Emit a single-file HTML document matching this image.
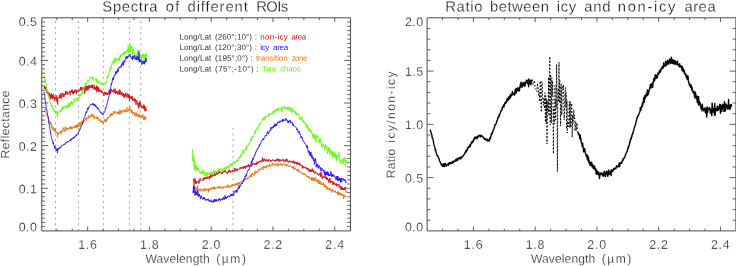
<!DOCTYPE html>
<html><head><meta charset="utf-8"><title>Spectra</title>
<style>html,body{margin:0;padding:0;background:#fff;}svg{display:block;}text{font-family:"Liberation Sans",sans-serif;}</style></head>
<body>
<svg width="736" height="266" viewBox="0 0 736 266" font-family="'Liberation Sans', sans-serif">
<rect width="736" height="266" fill="#ffffff"/>
<path d="M55.45,230.9 V18.8 M78.47,230.9 V18.8 M103.35,230.9 V18.8 M129.42,230.9 V18.8 M140.75,230.9 V18.8 M233.00,230.9 V128.0" stroke="#a0a0a0" stroke-width="0.95" stroke-dasharray="2.0 3.62" stroke-dashoffset="0.05" fill="none"/>
<g fill="none" stroke-width="0.9" stroke-linejoin="round" stroke-linecap="round">
<path d="M44.20,88.87 L44.47,85.90 L44.74,87.13 L45.01,88.23 L45.28,86.95 L45.55,88.82 L45.82,89.45 L46.09,87.34 L46.36,92.25 L46.63,92.19 L46.90,90.86 L47.17,92.12 L47.44,93.68 L47.71,92.95 L47.98,93.40 L48.25,91.91 L48.52,95.37 L48.79,95.01 L49.06,95.51 L49.33,92.94 L49.60,98.06 L49.87,95.93 L50.14,95.28 L50.41,99.21 L50.68,96.15 L50.95,94.13 L51.22,95.90 L51.49,93.12 L51.76,98.43 L52.03,96.28 L52.30,95.89 L52.57,98.81 L52.84,94.70 L53.11,98.20 L53.38,94.26 L53.65,96.54 L53.92,95.79 L54.19,100.01 L54.46,100.56 L54.73,97.39 L55.00,99.27 L55.27,97.75 L55.54,98.98 L55.81,96.99 L56.08,95.58 L56.35,95.47 L56.62,98.88 L56.89,101.76 L57.16,98.66 L57.43,97.36 L57.70,104.50 L57.97,98.33 L58.24,97.97 L58.51,98.04 L58.78,97.26 L59.05,96.81 L59.32,94.89 L59.59,97.72 L59.86,96.62 L60.13,98.44 L60.40,95.84 L60.67,93.27 L60.94,95.90 L61.21,98.52 L61.48,95.12 L61.75,94.17 L62.02,93.54 L62.29,93.60 L62.56,94.62 L62.83,93.10 L63.10,97.12 L63.37,94.22 L63.64,94.69 L63.91,96.61 L64.18,96.58 L64.45,93.78 L64.72,94.49 L64.99,94.97 L65.26,93.40 L65.53,90.80 L65.80,94.44 L66.07,94.67 L66.34,93.79 L66.61,91.58 L66.88,92.57 L67.15,91.82 L67.42,92.13 L67.69,94.48 L67.96,94.73 L68.23,93.29 L68.50,93.01 L68.77,93.13 L69.04,91.99 L69.31,91.83 L69.58,90.86 L69.85,91.79 L70.12,95.36 L70.39,93.17 L70.66,91.27 L70.93,91.04 L71.20,90.40 L71.47,92.30 L71.74,92.30 L72.01,89.43 L72.28,92.40 L72.55,90.73 L72.82,93.80 L73.09,91.81 L73.36,94.20 L73.63,90.80 L73.90,91.04 L74.17,91.92 L74.44,93.07 L74.71,92.28 L74.98,89.46 L75.25,91.64 L75.52,91.36 L75.79,90.63 L76.06,90.26 L76.33,93.94 L76.60,90.57 L76.87,89.81 L77.14,92.06 L77.41,91.21 L77.68,90.82 L77.95,92.07 L78.22,91.54 L78.49,91.26 L78.76,92.12 L79.03,90.98 L79.30,89.50 L79.57,89.82 L79.84,89.49 L80.11,90.54 L80.38,88.47 L80.65,87.21 L80.92,90.12 L81.19,87.82 L81.46,86.79 L81.73,90.32 L82.00,88.56 L82.27,90.35 L82.54,88.68 L82.81,87.68 L83.08,87.41 L83.35,88.46 L83.62,88.75 L83.89,87.82 L84.16,88.58 L84.43,86.55 L84.70,93.50 L84.97,85.97 L85.24,88.36 L85.51,89.65 L85.78,90.16 L86.05,91.03 L86.32,85.85 L86.59,89.34 L86.86,89.93 L87.13,89.48 L87.40,86.41 L87.67,88.39 L87.94,90.54 L88.21,85.22 L88.48,88.18 L88.75,89.07 L89.02,86.16 L89.29,88.04 L89.56,85.37 L89.83,85.67 L90.10,85.56 L90.37,87.03 L90.64,86.51 L90.91,88.07 L91.18,85.11 L91.45,86.36 L91.72,88.08 L91.99,87.51 L92.26,84.67 L92.53,87.86 L92.80,86.22 L93.07,87.70 L93.34,87.70 L93.61,89.26 L93.88,87.69 L94.15,84.77 L94.42,85.66 L94.69,89.05 L94.96,87.66 L95.23,89.96 L95.50,88.76 L95.77,87.30 L96.04,90.29 L96.31,87.49 L96.58,85.69 L96.85,92.22 L97.12,86.19 L97.39,90.29 L97.66,90.90 L97.93,89.83 L98.20,87.14 L98.47,91.49 L98.74,87.83 L99.01,88.15 L99.28,89.85 L99.55,91.80 L99.82,91.21 L100.09,92.18 L100.36,90.40 L100.63,90.99 L100.90,89.66 L101.17,91.11 L101.44,92.69 L101.71,91.47 L101.98,92.85 L102.25,91.39 L102.52,91.53 L102.79,92.68 L103.06,92.49 L103.33,93.88 L103.60,93.39 L103.87,95.95 L104.14,93.01 L104.41,93.08 L104.68,91.87 L104.95,93.55 L105.22,94.59 L105.49,92.36 L105.76,93.39 L106.03,94.53 L106.30,93.17 L106.57,92.51 L106.84,94.78 L107.11,93.37 L107.38,93.79 L107.65,94.94 L107.92,94.85 L108.19,92.48 L108.46,92.15 L108.73,93.33 L109.00,92.59 L109.27,89.74 L109.54,94.55 L109.81,92.46 L110.08,93.42 L110.35,90.28 L110.62,93.91 L110.89,90.80 L111.16,91.35 L111.43,89.15 L111.70,90.88 L111.97,90.63 L112.24,90.58 L112.51,91.46 L112.78,90.83 L113.05,92.23 L113.32,90.01 L113.59,89.24 L113.86,90.84 L114.13,91.96 L114.40,93.02 L114.67,92.47 L114.94,88.57 L115.21,92.01 L115.48,93.80 L115.75,91.74 L116.02,90.95 L116.29,92.34 L116.56,91.19 L116.83,93.07 L117.10,92.17 L117.37,94.47 L117.64,93.19 L117.91,91.40 L118.18,93.57 L118.45,94.20 L118.72,91.97 L118.99,92.30 L119.26,89.49 L119.53,94.59 L119.80,92.38 L120.07,90.10 L120.34,90.75 L120.61,93.25 L120.88,94.87 L121.15,93.65 L121.42,94.61 L121.69,92.25 L121.96,91.96 L122.23,95.49 L122.50,94.96 L122.77,94.23 L123.04,96.35 L123.31,92.96 L123.58,93.86 L123.85,96.19 L124.12,97.52 L124.39,94.76 L124.66,97.44 L124.93,93.97 L125.20,95.50 L125.47,94.80 L125.74,92.68 L126.01,95.63 L126.28,96.75 L126.55,95.15 L126.82,95.35 L127.09,97.70 L127.36,93.68 L127.63,93.37 L127.90,94.76 L128.17,94.01 L128.44,98.07 L128.71,96.59 L128.98,94.91 L129.25,95.46 L129.52,101.03 L129.79,95.83 L130.06,95.81 L130.33,97.69 L130.60,98.43 L130.87,98.01 L131.14,96.48 L131.41,96.32 L131.68,99.27 L131.95,98.48 L132.22,96.25 L132.49,100.84 L132.76,100.45 L133.03,99.10 L133.30,99.30 L133.57,100.29 L133.84,99.09 L134.11,98.30 L134.38,101.13 L134.65,98.63 L134.92,101.70 L135.19,99.09 L135.46,101.41 L135.73,101.59 L136.00,104.81 L136.27,100.63 L136.54,100.32 L136.81,101.75 L137.08,101.24 L137.35,102.31 L137.62,104.12 L137.89,104.90 L138.16,106.51 L138.43,103.03 L138.70,108.51 L138.97,107.72 L139.24,104.57 L139.51,101.56 L139.78,105.21 L140.05,105.66 L140.32,102.18 L140.59,106.06 L140.86,105.83 L141.13,105.10 L141.40,107.46 L141.67,108.21 L141.94,106.05 L142.21,107.32 L142.48,106.11 L142.75,106.07 L143.02,107.57 L143.29,108.42 L143.56,106.89 L143.83,104.49 L144.10,108.99 L144.37,105.76 L144.64,108.59 L144.91,111.32 L145.18,108.69 L145.45,107.02 L145.72,106.72 L145.99,110.91 L146.26,109.15" stroke="#cc1414"/>
<path d="M44.20,109.55 L44.47,110.37 L44.74,109.69 L45.01,109.90 L45.28,109.76 L45.55,107.97 L45.82,110.43 L46.09,112.75 L46.36,113.29 L46.63,114.62 L46.90,114.67 L47.17,115.66 L47.44,117.04 L47.71,115.77 L47.98,117.11 L48.25,116.25 L48.52,119.86 L48.79,119.43 L49.06,120.59 L49.33,122.44 L49.60,122.55 L49.87,121.88 L50.14,123.49 L50.41,121.59 L50.68,124.37 L50.95,124.67 L51.22,123.29 L51.49,127.29 L51.76,125.52 L52.03,127.66 L52.30,126.91 L52.57,129.02 L52.84,129.84 L53.11,127.81 L53.38,127.40 L53.65,129.37 L53.92,130.86 L54.19,129.82 L54.46,129.91 L54.73,131.53 L55.00,128.17 L55.27,130.94 L55.54,130.48 L55.81,132.77 L56.08,131.95 L56.35,131.82 L56.62,132.94 L56.89,131.85 L57.16,133.64 L57.43,137.50 L57.70,133.27 L57.97,132.81 L58.24,134.55 L58.51,133.18 L58.78,133.70 L59.05,133.45 L59.32,131.77 L59.59,133.15 L59.86,132.71 L60.13,132.49 L60.40,131.51 L60.67,131.32 L60.94,132.57 L61.21,134.03 L61.48,130.45 L61.75,131.90 L62.02,130.76 L62.29,131.97 L62.56,131.46 L62.83,132.07 L63.10,127.53 L63.37,129.94 L63.64,129.39 L63.91,130.29 L64.18,129.47 L64.45,129.46 L64.72,130.86 L64.99,132.15 L65.26,126.62 L65.53,129.39 L65.80,130.00 L66.07,129.54 L66.34,129.02 L66.61,127.76 L66.88,128.12 L67.15,129.92 L67.42,130.22 L67.69,128.98 L67.96,127.81 L68.23,128.78 L68.50,128.31 L68.77,129.12 L69.04,128.55 L69.31,127.62 L69.58,128.48 L69.85,126.84 L70.12,129.07 L70.39,129.42 L70.66,126.64 L70.93,128.41 L71.20,126.73 L71.47,129.03 L71.74,128.77 L72.01,127.40 L72.28,128.74 L72.55,127.04 L72.82,126.73 L73.09,126.75 L73.36,127.17 L73.63,126.90 L73.90,127.38 L74.17,126.43 L74.44,127.95 L74.71,128.18 L74.98,126.37 L75.25,125.23 L75.52,127.64 L75.79,128.05 L76.06,126.49 L76.33,125.13 L76.60,126.85 L76.87,128.22 L77.14,124.26 L77.41,126.88 L77.68,125.88 L77.95,125.14 L78.22,126.55 L78.49,124.32 L78.76,125.97 L79.03,126.92 L79.30,125.39 L79.57,123.92 L79.84,122.62 L80.11,122.92 L80.38,122.01 L80.65,125.69 L80.92,123.29 L81.19,122.11 L81.46,121.55 L81.73,121.55 L82.00,122.11 L82.27,120.76 L82.54,123.90 L82.81,120.86 L83.08,120.58 L83.35,121.60 L83.62,122.69 L83.89,122.33 L84.16,120.05 L84.43,120.71 L84.70,120.40 L84.97,120.65 L85.24,120.14 L85.51,118.58 L85.78,118.03 L86.05,119.49 L86.32,117.74 L86.59,120.48 L86.86,118.77 L87.13,117.36 L87.40,117.98 L87.67,117.58 L87.94,117.82 L88.21,118.87 L88.48,115.94 L88.75,115.27 L89.02,117.61 L89.29,116.83 L89.56,117.04 L89.83,117.17 L90.10,116.27 L90.37,117.20 L90.64,115.10 L90.91,116.07 L91.18,114.95 L91.45,114.54 L91.72,116.51 L91.99,116.46 L92.26,113.61 L92.53,114.61 L92.80,116.34 L93.07,117.33 L93.34,115.44 L93.61,116.10 L93.88,114.79 L94.15,119.40 L94.42,117.17 L94.69,117.75 L94.96,117.59 L95.23,118.01 L95.50,117.74 L95.77,116.76 L96.04,118.10 L96.31,117.44 L96.58,118.94 L96.85,116.71 L97.12,117.05 L97.39,118.56 L97.66,119.42 L97.93,118.28 L98.20,117.47 L98.47,118.34 L98.74,118.11 L99.01,121.08 L99.28,120.17 L99.55,120.83 L99.82,119.96 L100.09,119.22 L100.36,121.44 L100.63,122.24 L100.90,121.25 L101.17,120.79 L101.44,122.30 L101.71,120.87 L101.98,122.42 L102.25,120.96 L102.52,120.86 L102.79,122.76 L103.06,122.58 L103.33,124.39 L103.60,121.85 L103.87,122.09 L104.14,120.60 L104.41,119.55 L104.68,119.37 L104.95,121.65 L105.22,119.48 L105.49,121.83 L105.76,121.88 L106.03,119.62 L106.30,121.56 L106.57,119.63 L106.84,120.36 L107.11,118.52 L107.38,119.59 L107.65,117.11 L107.92,118.62 L108.19,117.08 L108.46,117.17 L108.73,117.77 L109.00,116.97 L109.27,116.42 L109.54,117.08 L109.81,116.91 L110.08,114.16 L110.35,116.15 L110.62,116.05 L110.89,114.19 L111.16,115.27 L111.43,113.08 L111.70,116.03 L111.97,113.88 L112.24,113.83 L112.51,115.07 L112.78,113.31 L113.05,113.93 L113.32,111.83 L113.59,112.18 L113.86,111.07 L114.13,112.29 L114.40,113.60 L114.67,112.58 L114.94,113.27 L115.21,111.04 L115.48,111.19 L115.75,111.67 L116.02,112.86 L116.29,112.61 L116.56,112.18 L116.83,112.91 L117.10,112.03 L117.37,112.18 L117.64,113.70 L117.91,111.53 L118.18,112.41 L118.45,114.05 L118.72,112.32 L118.99,113.01 L119.26,111.50 L119.53,114.45 L119.80,109.62 L120.07,110.90 L120.34,110.99 L120.61,114.06 L120.88,112.60 L121.15,111.90 L121.42,110.73 L121.69,112.61 L121.96,112.30 L122.23,111.35 L122.50,110.39 L122.77,110.79 L123.04,112.24 L123.31,112.28 L123.58,111.93 L123.85,111.58 L124.12,109.64 L124.39,111.63 L124.66,110.31 L124.93,111.45 L125.20,111.85 L125.47,110.45 L125.74,109.96 L126.01,112.19 L126.28,111.36 L126.55,110.14 L126.82,107.34 L127.09,110.63 L127.36,111.32 L127.63,111.80 L127.90,109.65 L128.17,109.60 L128.44,109.74 L128.71,111.12 L128.98,108.75 L129.25,109.95 L129.52,109.03 L129.79,106.50 L130.06,108.42 L130.33,110.75 L130.60,109.89 L130.87,110.38 L131.14,111.45 L131.41,112.37 L131.68,109.32 L131.95,112.63 L132.22,112.33 L132.49,111.56 L132.76,113.72 L133.03,112.54 L133.30,114.02 L133.57,112.06 L133.84,111.96 L134.11,114.57 L134.38,115.86 L134.65,114.31 L134.92,114.82 L135.19,113.46 L135.46,112.70 L135.73,114.17 L136.00,116.36 L136.27,112.70 L136.54,114.45 L136.81,112.99 L137.08,115.46 L137.35,116.48 L137.62,114.17 L137.89,115.23 L138.16,117.31 L138.43,115.77 L138.70,114.52 L138.97,114.51 L139.24,113.78 L139.51,117.06 L139.78,115.39 L140.05,117.53 L140.32,117.39 L140.59,115.71 L140.86,115.94 L141.13,117.51 L141.40,116.87 L141.67,117.08 L141.94,114.95 L142.21,117.95 L142.48,115.99 L142.75,114.47 L143.02,116.44 L143.29,117.70 L143.56,119.70 L143.83,116.94 L144.10,115.92 L144.37,119.96 L144.64,117.78 L144.91,117.37 L145.18,116.50 L145.45,116.64 L145.72,119.54 L145.99,117.58" stroke="#e07a1c"/>
<path d="M44.50,76.58 L44.77,77.42 L45.04,81.18 L45.31,79.39 L45.58,82.32 L45.85,83.27 L46.12,84.68 L46.39,84.61 L46.66,88.07 L46.93,90.70 L47.20,89.77 L47.47,89.87 L47.74,90.59 L48.01,93.78 L48.28,94.30 L48.55,95.62 L48.82,96.85 L49.09,95.92 L49.36,100.04 L49.63,100.37 L49.90,100.96 L50.17,102.30 L50.44,104.04 L50.71,103.81 L50.98,103.49 L51.25,106.66 L51.52,105.38 L51.79,105.63 L52.06,105.16 L52.33,107.62 L52.60,106.89 L52.87,108.07 L53.14,109.75 L53.41,109.72 L53.68,111.34 L53.95,110.87 L54.22,110.37 L54.49,110.79 L54.76,110.86 L55.03,112.51 L55.30,111.97 L55.57,111.67 L55.84,113.41 L56.11,112.73 L56.38,112.21 L56.65,111.06 L56.92,113.50 L57.19,113.28 L57.46,117.00 L57.73,112.35 L58.00,111.73 L58.27,112.28 L58.54,112.61 L58.81,111.93 L59.08,111.67 L59.35,111.04 L59.62,111.79 L59.89,111.42 L60.16,109.99 L60.43,111.59 L60.70,111.39 L60.97,111.18 L61.24,109.80 L61.51,109.50 L61.78,108.11 L62.05,110.23 L62.32,106.52 L62.59,108.44 L62.86,108.32 L63.13,109.59 L63.40,108.38 L63.67,107.04 L63.94,106.31 L64.21,106.98 L64.48,107.83 L64.75,107.60 L65.02,107.12 L65.29,106.36 L65.56,106.76 L65.83,108.06 L66.10,105.34 L66.37,106.55 L66.64,108.30 L66.91,106.84 L67.18,105.44 L67.45,106.63 L67.72,104.74 L67.99,105.49 L68.26,107.19 L68.53,107.43 L68.80,102.87 L69.07,105.62 L69.34,106.95 L69.61,103.73 L69.88,104.52 L70.15,105.85 L70.42,103.24 L70.69,104.20 L70.96,103.39 L71.23,100.93 L71.50,103.50 L71.77,102.67 L72.04,103.84 L72.31,105.06 L72.58,103.16 L72.85,101.70 L73.12,102.50 L73.39,102.02 L73.66,102.83 L73.93,99.65 L74.20,99.79 L74.47,98.53 L74.74,101.57 L75.01,100.62 L75.28,99.68 L75.55,99.39 L75.82,99.38 L76.09,98.75 L76.36,99.28 L76.63,98.85 L76.90,100.91 L77.17,99.38 L77.44,97.74 L77.71,97.77 L77.98,99.68 L78.25,98.50 L78.52,98.04 L78.79,98.29 L79.06,99.07 L79.33,95.39 L79.60,95.69 L79.87,94.21 L80.14,96.60 L80.41,95.18 L80.68,94.41 L80.95,93.85 L81.22,95.12 L81.49,93.57 L81.76,92.51 L82.03,94.06 L82.30,90.60 L82.57,89.67 L82.84,93.70 L83.11,89.44 L83.38,88.56 L83.65,87.68 L83.92,87.74 L84.19,88.22 L84.46,87.57 L84.73,86.72 L85.00,85.15 L85.27,83.12 L85.54,84.74 L85.81,85.72 L86.08,84.68 L86.35,82.69 L86.62,83.41 L86.89,81.53 L87.16,81.52 L87.43,79.71 L87.70,80.46 L87.97,80.68 L88.24,80.00 L88.51,80.85 L88.78,81.94 L89.05,81.00 L89.32,78.76 L89.59,77.98 L89.86,77.81 L90.13,77.15 L90.40,78.11 L90.67,78.37 L90.94,77.90 L91.21,77.79 L91.48,77.67 L91.75,77.29 L92.02,76.57 L92.29,79.64 L92.56,78.93 L92.83,76.71 L93.10,76.88 L93.37,77.44 L93.64,78.35 L93.91,80.01 L94.18,79.88 L94.45,80.11 L94.72,80.30 L94.99,80.49 L95.26,80.20 L95.53,80.03 L95.80,79.50 L96.07,77.69 L96.34,79.82 L96.61,82.34 L96.88,79.67 L97.15,79.74 L97.42,81.92 L97.69,80.97 L97.96,80.48 L98.23,83.15 L98.50,82.22 L98.77,82.58 L99.04,81.17 L99.31,82.66 L99.58,82.71 L99.85,83.40 L100.12,84.05 L100.39,84.22 L100.66,83.26 L100.93,84.09 L101.20,82.06 L101.47,84.44 L101.74,84.68 L102.01,83.58 L102.28,83.31 L102.55,84.38 L102.82,83.12 L103.09,85.08 L103.36,85.02 L103.63,83.43 L103.90,84.49 L104.17,85.51 L104.44,85.21 L104.71,84.77 L104.98,82.92 L105.25,82.21 L105.52,81.63 L105.79,82.28 L106.06,83.84 L106.33,82.08 L106.60,81.65 L106.87,80.68 L107.14,76.35 L107.41,77.28 L107.68,76.19 L107.95,77.40 L108.22,77.10 L108.49,73.39 L108.76,73.40 L109.03,73.20 L109.30,71.10 L109.57,70.13 L109.84,69.28 L110.11,70.53 L110.38,67.37 L110.65,69.40 L110.92,67.26 L111.19,67.44 L111.46,67.79 L111.73,64.11 L112.00,63.27 L112.27,64.37 L112.54,61.88 L112.81,61.82 L113.08,62.24 L113.35,62.26 L113.62,60.08 L113.89,61.01 L114.16,62.11 L114.43,62.94 L114.70,58.28 L114.97,62.49 L115.24,61.72 L115.51,58.87 L115.78,58.15 L116.05,60.49 L116.32,59.17 L116.59,59.72 L116.86,60.49 L117.13,58.64 L117.40,59.16 L117.67,59.38 L117.94,59.73 L118.21,60.71 L118.48,60.42 L118.75,58.26 L119.02,57.41 L119.29,60.72 L119.56,58.19 L119.83,57.70 L120.10,55.44 L120.37,57.76 L120.64,55.47 L120.91,55.69 L121.18,54.31 L121.45,55.20 L121.72,55.78 L121.99,53.48 L122.26,54.09 L122.53,54.98 L122.80,53.19 L123.07,53.00 L123.34,53.36 L123.61,52.38 L123.88,54.89 L124.15,52.52 L124.42,54.68 L124.69,54.67 L124.96,51.59 L125.23,53.03 L125.50,52.10 L125.77,50.97 L126.04,51.81 L126.31,51.69 L126.58,52.72 L126.85,52.90 L127.12,49.79 L127.39,50.48 L127.66,51.49 L127.93,52.11 L128.20,45.35 L128.47,52.62 L128.74,49.48 L129.01,52.74 L129.28,48.66 L129.55,47.74 L129.82,49.46 L130.09,51.72 L130.36,49.45 L130.63,44.69 L130.90,50.95 L131.17,46.46 L131.44,47.89 L131.71,47.70 L131.98,46.53 L132.25,47.93 L132.52,57.00 L132.79,49.71 L133.06,51.11 L133.33,50.83 L133.60,48.79 L133.87,51.71 L134.14,54.33 L134.41,54.56 L134.68,53.20 L134.95,54.46 L135.22,55.29 L135.49,56.51 L135.76,57.45 L136.03,60.00 L136.30,53.99 L136.57,57.78 L136.84,58.21 L137.11,58.42 L137.38,50.80 L137.65,55.35 L137.92,49.45 L138.19,57.77 L138.46,56.65 L138.73,56.85 L139.00,56.62 L139.27,63.00 L139.54,56.52 L139.81,59.25 L140.08,58.29 L140.35,57.85 L140.62,57.99 L140.89,57.18 L141.16,54.63 L141.43,61.00 L141.70,58.08 L141.97,56.23 L142.24,57.90 L142.51,58.14 L142.78,53.63 L143.05,55.86 L143.32,55.17 L143.59,54.17 L143.86,56.59 L144.13,63.00 L144.40,54.96 L144.67,56.30 L144.94,56.47 L145.21,56.38 L145.48,60.21 L145.75,54.63 L146.02,56.13 L146.29,53.16 L146.56,56.55" stroke="#66f814"/>
<path d="M44.00,92.24 L44.27,93.82 L44.54,94.41 L44.81,96.49 L45.08,99.46 L45.35,100.83 L45.62,103.47 L45.89,104.09 L46.16,107.12 L46.43,108.38 L46.70,109.55 L46.97,110.33 L47.24,112.30 L47.51,114.11 L47.78,115.82 L48.05,117.29 L48.32,118.94 L48.59,120.94 L48.86,123.45 L49.13,123.16 L49.40,125.32 L49.67,126.97 L49.94,129.16 L50.21,130.10 L50.48,132.98 L50.75,134.10 L51.02,135.19 L51.29,136.15 L51.56,137.79 L51.83,138.83 L52.10,139.89 L52.37,140.21 L52.64,142.01 L52.91,141.66 L53.18,144.18 L53.45,142.36 L53.72,144.61 L53.99,144.91 L54.26,146.73 L54.53,145.88 L54.80,148.36 L55.07,146.72 L55.34,149.25 L55.61,148.65 L55.88,148.76 L56.15,149.36 L56.42,150.70 L56.69,150.12 L56.96,148.35 L57.23,150.50 L57.50,153.00 L57.77,148.69 L58.04,149.98 L58.31,148.55 L58.58,149.10 L58.85,148.84 L59.12,148.01 L59.39,148.50 L59.66,147.21 L59.93,147.67 L60.20,146.96 L60.47,146.93 L60.74,147.97 L61.01,146.65 L61.28,145.70 L61.55,146.09 L61.82,145.50 L62.09,145.80 L62.36,145.69 L62.63,145.45 L62.90,145.26 L63.17,144.69 L63.44,145.10 L63.71,145.28 L63.98,144.07 L64.25,144.23 L64.52,144.11 L64.79,144.64 L65.06,144.35 L65.33,143.06 L65.60,143.36 L65.87,142.21 L66.14,142.34 L66.41,142.75 L66.68,142.93 L66.95,142.94 L67.22,141.98 L67.49,141.16 L67.76,142.03 L68.03,141.49 L68.30,141.66 L68.57,141.31 L68.84,141.45 L69.11,141.22 L69.38,141.14 L69.65,140.15 L69.92,140.84 L70.19,139.73 L70.46,139.89 L70.73,140.77 L71.00,139.66 L71.27,138.54 L71.54,139.95 L71.81,139.46 L72.08,139.35 L72.35,138.58 L72.62,138.47 L72.89,137.92 L73.16,137.44 L73.43,138.60 L73.70,137.24 L73.97,136.98 L74.24,136.80 L74.51,138.01 L74.78,137.21 L75.05,136.26 L75.32,136.26 L75.59,136.40 L75.86,136.41 L76.13,134.65 L76.40,135.91 L76.67,134.93 L76.94,134.32 L77.21,134.14 L77.48,134.48 L77.75,134.65 L78.02,133.23 L78.29,133.02 L78.56,131.74 L78.83,132.07 L79.10,131.80 L79.37,129.89 L79.64,129.95 L79.91,130.18 L80.18,128.04 L80.45,128.26 L80.72,128.20 L80.99,126.12 L81.26,126.20 L81.53,125.75 L81.80,125.54 L82.07,123.50 L82.34,124.23 L82.61,123.01 L82.88,122.81 L83.15,122.04 L83.42,120.77 L83.69,120.09 L83.96,117.96 L84.23,117.41 L84.50,116.82 L84.77,116.42 L85.04,116.39 L85.31,113.94 L85.58,114.03 L85.85,112.62 L86.12,111.70 L86.39,112.82 L86.66,111.30 L86.93,111.60 L87.20,110.73 L87.47,108.91 L87.74,107.84 L88.01,109.77 L88.28,107.85 L88.55,107.00 L88.82,107.71 L89.09,106.97 L89.36,106.08 L89.63,105.87 L89.90,105.78 L90.17,105.33 L90.44,105.34 L90.71,104.34 L90.98,104.07 L91.25,104.44 L91.52,104.13 L91.79,104.53 L92.06,103.70 L92.33,103.84 L92.60,103.32 L92.87,105.11 L93.14,103.52 L93.41,104.67 L93.68,104.18 L93.95,105.10 L94.22,105.53 L94.49,104.26 L94.76,105.30 L95.03,104.54 L95.30,106.63 L95.57,105.71 L95.84,105.23 L96.11,105.99 L96.38,107.47 L96.65,107.84 L96.92,108.00 L97.19,107.06 L97.46,107.77 L97.73,109.20 L98.00,108.11 L98.27,108.70 L98.54,108.67 L98.81,108.89 L99.08,110.68 L99.35,110.68 L99.62,110.91 L99.89,111.34 L100.16,111.95 L100.43,112.60 L100.70,112.02 L100.97,112.17 L101.24,112.10 L101.51,113.73 L101.78,113.10 L102.05,112.86 L102.32,113.95 L102.59,114.34 L102.86,114.92 L103.13,114.97 L103.40,113.74 L103.67,113.39 L103.94,113.23 L104.21,112.13 L104.48,112.09 L104.75,111.60 L105.02,110.50 L105.29,108.64 L105.56,108.05 L105.83,108.70 L106.10,106.44 L106.37,106.65 L106.64,105.72 L106.91,104.24 L107.18,102.91 L107.45,102.68 L107.72,101.03 L107.99,100.43 L108.26,99.58 L108.53,97.72 L108.80,97.06 L109.07,95.82 L109.34,93.76 L109.61,93.50 L109.88,91.78 L110.15,89.30 L110.42,89.30 L110.69,87.89 L110.96,86.14 L111.23,83.38 L111.50,84.75 L111.77,83.44 L112.04,82.32 L112.31,81.04 L112.58,78.70 L112.85,79.28 L113.12,77.68 L113.39,80.09 L113.66,76.99 L113.93,77.57 L114.20,74.93 L114.47,74.75 L114.74,74.81 L115.01,75.44 L115.28,74.76 L115.55,73.97 L115.82,71.42 L116.09,73.72 L116.36,71.29 L116.63,73.22 L116.90,73.00 L117.17,71.59 L117.44,71.33 L117.71,68.81 L117.98,72.07 L118.25,69.48 L118.52,69.86 L118.79,67.75 L119.06,68.14 L119.33,66.72 L119.60,67.26 L119.87,67.14 L120.14,67.01 L120.41,67.73 L120.68,66.51 L120.95,65.93 L121.22,65.37 L121.49,66.88 L121.76,64.07 L122.03,65.39 L122.30,62.05 L122.57,62.72 L122.84,63.58 L123.11,62.68 L123.38,65.31 L123.65,64.55 L123.92,60.32 L124.19,60.39 L124.46,60.90 L124.73,62.33 L125.00,61.40 L125.27,60.27 L125.54,58.27 L125.81,58.45 L126.08,56.36 L126.35,57.10 L126.62,58.60 L126.89,58.60 L127.16,56.28 L127.43,57.27 L127.70,58.37 L127.97,56.65 L128.24,55.74 L128.51,56.64 L128.78,56.21 L129.05,55.36 L129.32,54.35 L129.59,54.40 L129.86,55.07 L130.13,54.25 L130.40,56.91 L130.67,56.51 L130.94,57.02 L131.21,58.57 L131.48,58.23 L131.75,58.24 L132.02,57.04 L132.29,56.46 L132.56,59.98 L132.83,56.09 L133.10,56.27 L133.37,56.02 L133.64,57.58 L133.91,57.94 L134.18,58.86 L134.45,57.25 L134.72,55.30 L134.99,58.17 L135.26,59.14 L135.53,57.96 L135.80,57.84 L136.07,58.89 L136.34,60.19 L136.61,58.29 L136.88,56.59 L137.15,57.89 L137.42,58.57 L137.69,56.52 L137.96,60.14 L138.23,58.22 L138.50,60.10 L138.77,59.83 L139.04,51.50 L139.31,62.07 L139.58,59.29 L139.85,59.32 L140.12,60.82 L140.39,61.77 L140.66,60.85 L140.93,59.77 L141.20,62.28 L141.47,62.42 L141.74,64.69 L142.01,61.87 L142.28,62.72 L142.55,61.88 L142.82,60.78 L143.09,62.98 L143.36,64.06 L143.63,61.52 L143.90,61.90 L144.17,61.08 L144.44,64.27 L144.71,61.36 L144.98,62.76 L145.25,60.56 L145.52,61.58 L145.79,60.42 L146.06,57.90 L146.33,61.01 L146.60,61.49" stroke="#2a10ff"/>
<path d="M192.50,149.46 L192.77,161.10 L193.04,160.27 L193.31,157.83 L193.58,162.33 L193.85,156.02 L194.12,165.50 L194.39,169.33 L194.66,161.30 L194.93,165.82 L195.20,170.71 L195.47,167.19 L195.74,165.85 L196.01,165.29 L196.28,168.36 L196.55,167.95 L196.82,169.92 L197.09,165.70 L197.36,171.25 L197.63,168.64 L197.90,170.85 L198.17,168.70 L198.44,168.06 L198.71,169.61 L198.98,169.31 L199.25,170.52 L199.52,172.33 L199.79,173.19 L200.06,172.17 L200.33,171.36 L200.60,171.69 L200.87,173.25 L201.14,174.08 L201.41,172.34 L201.68,172.69 L201.95,172.01 L202.22,173.25 L202.49,174.20 L202.76,169.73 L203.03,173.47 L203.30,172.72 L203.57,170.99 L203.84,173.74 L204.11,173.40 L204.38,173.94 L204.65,172.25 L204.92,175.87 L205.19,173.89 L205.46,173.50 L205.73,175.46 L206.00,174.65 L206.27,174.89 L206.54,175.27 L206.81,172.02 L207.08,175.82 L207.35,173.77 L207.62,174.39 L207.89,174.99 L208.16,173.28 L208.43,174.25 L208.70,174.62 L208.97,173.72 L209.24,174.18 L209.51,171.97 L209.78,172.31 L210.05,172.27 L210.32,173.72 L210.59,177.06 L210.86,173.45 L211.13,172.95 L211.40,172.95 L211.67,173.93 L211.94,173.58 L212.21,171.61 L212.48,173.72 L212.75,172.58 L213.02,173.35 L213.29,170.42 L213.56,170.79 L213.83,172.88 L214.10,170.37 L214.37,172.51 L214.64,172.37 L214.91,172.09 L215.18,172.22 L215.45,172.04 L215.72,172.14 L215.99,171.19 L216.26,171.49 L216.53,174.39 L216.80,172.48 L217.07,171.86 L217.34,171.54 L217.61,170.32 L217.88,171.19 L218.15,170.62 L218.42,171.74 L218.69,169.77 L218.96,168.21 L219.23,169.94 L219.50,171.12 L219.77,172.82 L220.04,171.28 L220.31,169.16 L220.58,169.83 L220.85,169.00 L221.12,169.68 L221.39,168.87 L221.66,168.03 L221.93,170.05 L222.20,169.71 L222.47,169.25 L222.74,169.68 L223.01,171.30 L223.28,169.27 L223.55,168.67 L223.82,169.84 L224.09,167.21 L224.36,169.54 L224.63,167.89 L224.90,167.75 L225.17,168.58 L225.44,170.04 L225.71,167.48 L225.98,169.07 L226.25,168.36 L226.52,166.44 L226.79,168.64 L227.06,166.74 L227.33,165.96 L227.60,166.51 L227.87,166.45 L228.14,167.65 L228.41,166.17 L228.68,168.29 L228.95,166.87 L229.22,165.79 L229.49,165.54 L229.76,166.48 L230.03,164.06 L230.30,163.78 L230.57,164.95 L230.84,166.35 L231.11,165.76 L231.38,165.47 L231.65,165.10 L231.92,162.98 L232.19,164.72 L232.46,163.10 L232.73,165.57 L233.00,164.53 L233.27,164.24 L233.54,164.51 L233.81,164.18 L234.08,163.82 L234.35,163.65 L234.62,162.40 L234.89,161.34 L235.16,162.73 L235.43,163.54 L235.70,162.79 L235.97,161.24 L236.24,161.77 L236.51,160.40 L236.78,160.93 L237.05,159.62 L237.32,160.07 L237.59,161.64 L237.86,160.09 L238.13,160.52 L238.40,157.91 L238.67,157.69 L238.94,158.03 L239.21,158.32 L239.48,157.22 L239.75,158.12 L240.02,156.20 L240.29,157.79 L240.56,157.05 L240.83,154.58 L241.10,155.94 L241.37,154.76 L241.64,155.65 L241.91,153.71 L242.18,154.21 L242.45,154.08 L242.72,150.37 L242.99,150.89 L243.26,152.56 L243.53,151.94 L243.80,152.73 L244.07,151.57 L244.34,149.69 L244.61,150.95 L244.88,149.49 L245.15,149.65 L245.42,149.00 L245.69,149.49 L245.96,147.31 L246.23,147.22 L246.50,145.70 L246.77,149.70 L247.04,146.10 L247.31,145.80 L247.58,145.06 L247.85,145.12 L248.12,144.88 L248.39,145.49 L248.66,144.60 L248.93,144.30 L249.20,142.92 L249.47,142.99 L249.74,143.84 L250.01,142.14 L250.28,142.02 L250.55,139.19 L250.82,141.30 L251.09,140.57 L251.36,141.14 L251.63,136.56 L251.90,138.88 L252.17,138.23 L252.44,137.94 L252.71,136.71 L252.98,137.05 L253.25,137.04 L253.52,135.87 L253.79,135.02 L254.06,134.59 L254.33,133.91 L254.60,133.84 L254.87,132.56 L255.14,130.77 L255.41,133.65 L255.68,129.99 L255.95,131.15 L256.22,129.45 L256.49,129.98 L256.76,128.79 L257.03,129.23 L257.30,127.93 L257.57,126.97 L257.84,128.10 L258.11,128.65 L258.38,127.15 L258.65,126.42 L258.92,124.75 L259.19,125.23 L259.46,125.28 L259.73,123.67 L260.00,124.75 L260.27,123.30 L260.54,123.20 L260.81,121.85 L261.08,121.39 L261.35,121.67 L261.62,121.43 L261.89,121.01 L262.16,119.27 L262.43,119.24 L262.70,119.66 L262.97,117.54 L263.24,120.23 L263.51,119.26 L263.78,118.74 L264.05,117.74 L264.32,119.06 L264.59,117.71 L264.86,119.67 L265.13,117.92 L265.40,115.79 L265.67,117.82 L265.94,116.34 L266.21,116.15 L266.48,116.24 L266.75,116.17 L267.02,116.39 L267.29,116.74 L267.56,116.26 L267.83,114.91 L268.10,114.11 L268.37,114.50 L268.64,115.51 L268.91,115.86 L269.18,116.64 L269.45,113.29 L269.72,114.58 L269.99,114.10 L270.26,113.76 L270.53,114.15 L270.80,113.59 L271.07,113.41 L271.34,112.86 L271.61,113.76 L271.88,114.26 L272.15,114.69 L272.42,112.34 L272.69,111.64 L272.96,112.28 L273.23,111.54 L273.50,113.27 L273.77,111.24 L274.04,111.98 L274.31,110.38 L274.58,111.23 L274.85,111.61 L275.12,112.81 L275.39,110.40 L275.66,111.31 L275.93,108.67 L276.20,109.39 L276.47,109.63 L276.74,109.78 L277.01,110.56 L277.28,110.61 L277.55,108.18 L277.82,110.18 L278.09,108.36 L278.36,111.20 L278.63,109.52 L278.90,109.24 L279.17,108.79 L279.44,108.83 L279.71,108.77 L279.98,107.98 L280.25,109.36 L280.52,108.81 L280.79,109.23 L281.06,108.33 L281.33,109.01 L281.60,107.49 L281.87,111.79 L282.14,107.40 L282.41,107.59 L282.68,108.95 L282.95,109.15 L283.22,107.03 L283.49,106.08 L283.76,106.27 L284.03,106.61 L284.30,106.75 L284.57,107.32 L284.84,108.49 L285.11,108.52 L285.38,106.81 L285.65,107.99 L285.92,108.37 L286.19,108.96 L286.46,107.45 L286.73,106.95 L287.00,108.57 L287.27,109.45 L287.54,107.49 L287.81,110.09 L288.08,109.97 L288.35,108.06 L288.62,106.84 L288.89,107.93 L289.16,108.28 L289.43,109.28 L289.70,107.16 L289.97,111.41 L290.24,111.42 L290.51,108.43 L290.78,107.38 L291.05,109.20 L291.32,109.93 L291.59,113.00 L291.86,110.52 L292.13,109.77 L292.40,108.18 L292.67,110.89 L292.94,111.45 L293.21,110.52 L293.48,111.36 L293.75,111.54 L294.02,111.33 L294.29,110.66 L294.56,112.42 L294.83,110.89 L295.10,113.99 L295.37,111.91 L295.64,113.56 L295.91,112.57 L296.18,113.94 L296.45,113.59 L296.72,114.59 L296.99,113.50 L297.26,112.91 L297.53,114.53 L297.80,114.72 L298.07,113.83 L298.34,114.93 L298.61,114.21 L298.88,116.31 L299.15,116.11 L299.42,116.80 L299.69,119.72 L299.96,117.54 L300.23,118.05 L300.50,118.61 L300.77,118.13 L301.04,117.96 L301.31,119.75 L301.58,120.20 L301.85,116.50 L302.12,119.59 L302.39,119.70 L302.66,119.77 L302.93,121.90 L303.20,120.40 L303.47,122.13 L303.74,121.02 L304.01,121.49 L304.28,122.98 L304.55,121.85 L304.82,122.79 L305.09,122.20 L305.36,122.80 L305.63,124.81 L305.90,125.05 L306.17,123.68 L306.44,124.02 L306.71,128.18 L306.98,125.33 L307.25,125.48 L307.52,127.26 L307.79,126.34 L308.06,126.68 L308.33,129.61 L308.60,130.20 L308.87,128.16 L309.14,131.66 L309.41,129.04 L309.68,129.25 L309.95,130.12 L310.22,129.93 L310.49,132.04 L310.76,131.97 L311.03,130.27 L311.30,132.65 L311.57,131.64 L311.84,132.00 L312.11,133.30 L312.38,136.03 L312.65,134.90 L312.92,137.25 L313.19,138.16 L313.46,135.22 L313.73,134.34 L314.00,134.22 L314.27,136.62 L314.54,138.05 L314.81,139.75 L315.08,134.14 L315.35,138.90 L315.62,139.44 L315.89,142.45 L316.16,138.14 L316.43,137.94 L316.70,135.18 L316.97,136.92 L317.24,136.51 L317.51,136.94 L317.78,137.41 L318.05,136.38 L318.32,139.55 L318.59,140.79 L318.86,141.82 L319.13,140.36 L319.40,142.97 L319.67,143.28 L319.94,138.34 L320.21,141.16 L320.48,139.48 L320.75,140.32 L321.02,142.97 L321.29,142.64 L321.56,146.16 L321.83,147.64 L322.10,144.64 L322.37,143.70 L322.64,144.09 L322.91,144.66 L323.18,146.14 L323.45,143.79 L323.72,146.76 L323.99,145.38 L324.26,148.33 L324.53,149.25 L324.80,150.33 L325.07,146.81 L325.34,144.72 L325.61,144.37 L325.88,147.52 L326.15,145.58 L326.42,145.44 L326.69,148.38 L326.96,147.40 L327.23,151.07 L327.50,153.88 L327.77,149.75 L328.04,151.09 L328.31,147.50 L328.58,151.27 L328.85,149.70 L329.12,149.11 L329.39,147.78 L329.66,155.00 L329.93,148.71 L330.20,149.75 L330.47,152.43 L330.74,153.21 L331.01,153.43 L331.28,153.27 L331.55,151.46 L331.82,155.04 L332.09,154.09 L332.36,150.97 L332.63,157.37 L332.90,153.63 L333.17,156.45 L333.44,151.77 L333.71,152.50 L333.98,153.93 L334.25,153.87 L334.52,157.49 L334.79,152.32 L335.06,156.10 L335.33,153.88 L335.60,157.14 L335.87,156.68 L336.14,155.31 L336.41,161.09 L336.68,156.66 L336.95,159.14 L337.22,154.40 L337.49,157.00 L337.76,157.59 L338.03,157.86 L338.30,157.05 L338.57,156.23 L338.84,151.80 L339.11,157.08 L339.38,156.53 L339.65,158.02 L339.92,160.43 L340.19,163.33 L340.46,160.06 L340.73,161.19 L341.00,160.55 L341.27,160.89 L341.54,160.76 L341.81,159.17 L342.08,159.19 L342.35,160.66 L342.62,163.78 L342.89,161.86 L343.16,163.68 L343.43,157.94 L343.70,161.24 L343.97,161.66 L344.24,162.05 L344.51,158.35 L344.78,157.54 L345.05,157.12 L345.32,160.75 L345.59,166.44 L345.86,162.24 L346.13,159.44 L346.40,162.66" stroke="#66f814"/>
<path d="M193.30,180.14 L193.57,181.61 L193.84,179.96 L194.11,177.95 L194.38,180.06 L194.65,183.03 L194.92,182.14 L195.19,184.02 L195.46,179.53 L195.73,183.51 L196.00,181.71 L196.27,181.90 L196.54,183.51 L196.81,181.28 L197.08,181.77 L197.35,182.21 L197.62,182.10 L197.89,182.20 L198.16,182.68 L198.43,181.61 L198.70,180.36 L198.97,183.62 L199.24,180.67 L199.51,181.03 L199.78,179.73 L200.05,178.15 L200.32,179.55 L200.59,180.32 L200.86,180.69 L201.13,180.10 L201.40,180.74 L201.67,180.82 L201.94,180.70 L202.21,179.68 L202.48,179.65 L202.75,179.28 L203.02,178.67 L203.29,180.43 L203.56,178.17 L203.83,179.02 L204.10,179.16 L204.37,177.14 L204.64,179.38 L204.91,178.39 L205.18,178.76 L205.45,178.21 L205.72,177.14 L205.99,178.44 L206.26,178.27 L206.53,178.89 L206.80,178.36 L207.07,176.51 L207.34,178.66 L207.61,178.31 L207.88,178.18 L208.15,177.84 L208.42,176.77 L208.69,177.67 L208.96,176.83 L209.23,179.35 L209.50,176.72 L209.77,175.90 L210.04,176.42 L210.31,177.75 L210.58,176.01 L210.85,174.39 L211.12,177.45 L211.39,176.41 L211.66,175.64 L211.93,176.51 L212.20,175.08 L212.47,174.76 L212.74,176.38 L213.01,175.08 L213.28,175.82 L213.55,175.29 L213.82,175.85 L214.09,175.15 L214.36,173.29 L214.63,175.39 L214.90,174.34 L215.17,175.32 L215.44,174.57 L215.71,175.50 L215.98,173.96 L216.25,172.41 L216.52,173.68 L216.79,174.21 L217.06,173.38 L217.33,173.13 L217.60,174.56 L217.87,173.12 L218.14,173.98 L218.41,173.15 L218.68,171.77 L218.95,172.10 L219.22,172.55 L219.49,173.00 L219.76,172.06 L220.03,171.54 L220.30,171.84 L220.57,172.21 L220.84,171.89 L221.11,172.10 L221.38,174.06 L221.65,172.75 L221.92,171.83 L222.19,172.46 L222.46,173.72 L222.73,172.93 L223.00,172.30 L223.27,171.26 L223.54,170.95 L223.81,172.02 L224.08,172.18 L224.35,170.93 L224.62,171.13 L224.89,172.15 L225.16,170.36 L225.43,170.74 L225.70,172.06 L225.97,172.53 L226.24,172.31 L226.51,172.83 L226.78,173.27 L227.05,172.69 L227.32,171.72 L227.59,173.63 L227.86,173.24 L228.13,172.59 L228.40,171.13 L228.67,172.06 L228.94,169.99 L229.21,171.35 L229.48,169.54 L229.75,171.15 L230.02,172.25 L230.29,171.37 L230.56,172.59 L230.83,171.22 L231.10,171.23 L231.37,170.84 L231.64,171.44 L231.91,170.92 L232.18,171.85 L232.45,172.11 L232.72,171.04 L232.99,169.76 L233.26,171.06 L233.53,171.63 L233.80,170.99 L234.07,170.64 L234.34,171.09 L234.61,171.33 L234.88,168.08 L235.15,171.36 L235.42,170.68 L235.69,170.38 L235.96,169.47 L236.23,170.03 L236.50,170.27 L236.77,168.51 L237.04,170.25 L237.31,169.63 L237.58,170.69 L237.85,169.97 L238.12,169.20 L238.39,169.31 L238.66,169.70 L238.93,169.22 L239.20,169.45 L239.47,168.34 L239.74,167.82 L240.01,168.28 L240.28,167.49 L240.55,167.93 L240.82,168.75 L241.09,167.05 L241.36,167.29 L241.63,168.79 L241.90,167.67 L242.17,168.00 L242.44,166.92 L242.71,166.98 L242.98,167.49 L243.25,168.97 L243.52,167.92 L243.79,166.11 L244.06,167.74 L244.33,168.03 L244.60,167.75 L244.87,166.11 L245.14,166.96 L245.41,168.64 L245.68,166.07 L245.95,167.01 L246.22,166.04 L246.49,165.53 L246.76,166.12 L247.03,167.21 L247.30,167.22 L247.57,165.48 L247.84,165.72 L248.11,165.30 L248.38,164.25 L248.65,166.33 L248.92,167.02 L249.19,166.88 L249.46,165.20 L249.73,166.57 L250.00,166.29 L250.27,165.05 L250.54,165.23 L250.81,164.85 L251.08,165.26 L251.35,166.45 L251.62,164.14 L251.89,163.84 L252.16,165.43 L252.43,164.68 L252.70,163.02 L252.97,163.64 L253.24,163.71 L253.51,163.80 L253.78,164.46 L254.05,164.92 L254.32,163.90 L254.59,164.06 L254.86,163.25 L255.13,164.60 L255.40,164.77 L255.67,163.37 L255.94,162.88 L256.21,165.06 L256.48,164.02 L256.75,162.44 L257.02,161.67 L257.29,162.68 L257.56,163.77 L257.83,162.24 L258.10,162.36 L258.37,162.03 L258.64,162.84 L258.91,163.32 L259.18,161.05 L259.45,161.71 L259.72,161.66 L259.99,161.19 L260.26,160.61 L260.53,162.12 L260.80,161.46 L261.07,161.79 L261.34,162.31 L261.61,160.67 L261.88,161.29 L262.15,160.43 L262.42,157.50 L262.69,160.87 L262.96,160.41 L263.23,159.28 L263.50,161.69 L263.77,160.57 L264.04,159.52 L264.31,158.65 L264.58,160.42 L264.85,160.96 L265.12,161.25 L265.39,161.33 L265.66,160.11 L265.93,160.94 L266.20,159.16 L266.47,160.53 L266.74,161.14 L267.01,159.90 L267.28,160.26 L267.55,160.47 L267.82,160.49 L268.09,161.59 L268.36,159.50 L268.63,161.45 L268.90,159.35 L269.17,159.82 L269.44,159.72 L269.71,160.28 L269.98,159.94 L270.25,160.73 L270.52,160.34 L270.79,162.12 L271.06,160.64 L271.33,160.12 L271.60,160.62 L271.87,160.80 L272.14,160.15 L272.41,159.40 L272.68,159.64 L272.95,160.44 L273.22,160.96 L273.49,160.68 L273.76,160.21 L274.03,160.74 L274.30,159.88 L274.57,160.49 L274.84,161.43 L275.11,161.19 L275.38,161.38 L275.65,159.98 L275.92,160.45 L276.19,159.47 L276.46,161.03 L276.73,159.95 L277.00,159.22 L277.27,159.89 L277.54,160.50 L277.81,158.51 L278.08,159.15 L278.35,161.10 L278.62,160.38 L278.89,160.27 L279.16,159.00 L279.43,161.59 L279.70,161.14 L279.97,160.88 L280.24,159.42 L280.51,160.79 L280.78,161.25 L281.05,160.06 L281.32,160.12 L281.59,159.94 L281.86,160.81 L282.13,160.14 L282.40,160.07 L282.67,159.16 L282.94,158.99 L283.21,161.10 L283.48,161.62 L283.75,161.04 L284.02,161.49 L284.29,159.91 L284.56,160.31 L284.83,160.65 L285.10,160.22 L285.37,161.71 L285.64,159.28 L285.91,159.89 L286.18,160.08 L286.45,159.81 L286.72,161.09 L286.99,158.82 L287.26,161.40 L287.53,161.26 L287.80,160.84 L288.07,161.79 L288.34,162.63 L288.61,160.96 L288.88,161.48 L289.15,161.29 L289.42,161.48 L289.69,160.73 L289.96,160.63 L290.23,161.79 L290.50,160.96 L290.77,162.21 L291.04,162.19 L291.31,161.26 L291.58,162.00 L291.85,161.85 L292.12,161.75 L292.39,162.86 L292.66,162.06 L292.93,162.29 L293.20,160.61 L293.47,162.75 L293.74,161.18 L294.01,162.11 L294.28,163.81 L294.55,164.03 L294.82,162.35 L295.09,161.73 L295.36,163.15 L295.63,162.58 L295.90,163.26 L296.17,161.99 L296.44,164.08 L296.71,164.53 L296.98,162.22 L297.25,162.88 L297.52,163.06 L297.79,164.35 L298.06,162.30 L298.33,164.20 L298.60,163.99 L298.87,163.68 L299.14,165.03 L299.41,163.03 L299.68,163.64 L299.95,164.26 L300.22,165.61 L300.49,164.89 L300.76,164.64 L301.03,165.85 L301.30,165.21 L301.57,165.22 L301.84,165.64 L302.11,166.30 L302.38,168.35 L302.65,165.43 L302.92,166.68 L303.19,166.47 L303.46,166.53 L303.73,168.11 L304.00,167.65 L304.27,167.71 L304.54,166.95 L304.81,166.77 L305.08,167.84 L305.35,167.51 L305.62,167.42 L305.89,168.57 L306.16,167.18 L306.43,167.71 L306.70,169.06 L306.97,168.49 L307.24,169.22 L307.51,168.11 L307.78,169.49 L308.05,168.23 L308.32,170.86 L308.59,170.29 L308.86,170.01 L309.13,171.43 L309.40,170.11 L309.67,169.04 L309.94,171.81 L310.21,170.46 L310.48,171.64 L310.75,170.46 L311.02,171.81 L311.29,169.47 L311.56,169.10 L311.83,169.05 L312.10,171.80 L312.37,168.61 L312.64,168.95 L312.91,169.51 L313.18,171.63 L313.45,172.00 L313.72,170.59 L313.99,172.66 L314.26,172.21 L314.53,173.42 L314.80,173.22 L315.07,171.37 L315.34,172.59 L315.61,172.28 L315.88,173.19 L316.15,173.02 L316.42,172.95 L316.69,173.93 L316.96,173.29 L317.23,174.26 L317.50,173.56 L317.77,173.48 L318.04,174.94 L318.31,175.12 L318.58,175.62 L318.85,175.03 L319.12,174.16 L319.39,174.79 L319.66,174.90 L319.93,172.73 L320.20,173.65 L320.47,177.01 L320.74,175.24 L321.01,172.00 L321.28,175.46 L321.55,175.95 L321.82,174.41 L322.09,178.81 L322.36,177.56 L322.63,177.33 L322.90,176.27 L323.17,177.23 L323.44,177.81 L323.71,177.52 L323.98,176.28 L324.25,177.47 L324.52,177.56 L324.79,177.92 L325.06,176.47 L325.33,178.21 L325.60,178.07 L325.87,178.53 L326.14,178.67 L326.41,176.86 L326.68,179.82 L326.95,179.87 L327.22,177.52 L327.49,179.21 L327.76,178.47 L328.03,179.13 L328.30,181.08 L328.57,180.68 L328.84,182.62 L329.11,180.51 L329.38,179.22 L329.65,180.90 L329.92,177.98 L330.19,183.27 L330.46,181.61 L330.73,182.01 L331.00,181.84 L331.27,180.80 L331.54,181.86 L331.81,181.24 L332.08,181.75 L332.35,182.94 L332.62,181.26 L332.89,184.88 L333.16,181.78 L333.43,184.26 L333.70,182.65 L333.97,182.09 L334.24,184.23 L334.51,184.13 L334.78,183.81 L335.05,184.17 L335.32,183.64 L335.59,185.05 L335.86,184.10 L336.13,184.85 L336.40,186.31 L336.67,183.50 L336.94,184.56 L337.21,184.57 L337.48,184.56 L337.75,184.04 L338.02,185.48 L338.29,186.13 L338.56,185.95 L338.83,184.30 L339.10,187.20 L339.37,187.37 L339.64,186.75 L339.91,185.60 L340.18,185.91 L340.45,189.44 L340.72,189.31 L340.99,187.95 L341.26,186.42 L341.53,189.18 L341.80,188.02 L342.07,189.97 L342.34,187.40 L342.61,188.80 L342.88,188.12 L343.15,189.43 L343.42,187.90 L343.69,189.92 L343.96,188.49 L344.23,188.02 L344.50,189.93 L344.77,189.67 L345.04,186.98 L345.31,189.61 L345.58,189.89 L345.85,190.09 L346.12,192.42" stroke="#cc1414"/>
<path d="M193.30,183.63 L193.57,185.47 L193.84,181.72 L194.11,182.71 L194.38,185.01 L194.65,186.26 L194.92,186.45 L195.19,188.26 L195.46,188.67 L195.73,189.37 L196.00,187.77 L196.27,189.07 L196.54,187.58 L196.81,189.36 L197.08,189.73 L197.35,188.63 L197.62,185.43 L197.89,188.79 L198.16,192.71 L198.43,189.65 L198.70,189.10 L198.97,189.97 L199.24,191.08 L199.51,190.29 L199.78,189.78 L200.05,188.74 L200.32,189.78 L200.59,188.96 L200.86,190.50 L201.13,191.63 L201.40,191.23 L201.67,189.73 L201.94,189.40 L202.21,189.05 L202.48,190.71 L202.75,190.81 L203.02,190.93 L203.29,190.54 L203.56,189.26 L203.83,188.65 L204.10,191.07 L204.37,189.46 L204.64,191.64 L204.91,188.36 L205.18,189.14 L205.45,189.25 L205.72,190.18 L205.99,190.47 L206.26,189.45 L206.53,190.35 L206.80,188.78 L207.07,189.39 L207.34,188.79 L207.61,189.28 L207.88,189.18 L208.15,189.90 L208.42,192.39 L208.69,188.46 L208.96,189.35 L209.23,190.01 L209.50,189.45 L209.77,190.48 L210.04,188.44 L210.31,189.82 L210.58,188.49 L210.85,189.72 L211.12,189.12 L211.39,189.12 L211.66,188.37 L211.93,187.28 L212.20,187.81 L212.47,189.21 L212.74,188.35 L213.01,189.09 L213.28,187.36 L213.55,188.88 L213.82,189.10 L214.09,186.43 L214.36,188.41 L214.63,189.66 L214.90,187.42 L215.17,188.79 L215.44,187.96 L215.71,188.58 L215.98,187.54 L216.25,187.19 L216.52,187.45 L216.79,187.48 L217.06,187.28 L217.33,187.02 L217.60,188.60 L217.87,187.22 L218.14,186.69 L218.41,186.88 L218.68,188.02 L218.95,185.79 L219.22,187.98 L219.49,188.13 L219.76,188.57 L220.03,187.15 L220.30,186.83 L220.57,187.61 L220.84,187.56 L221.11,188.49 L221.38,187.45 L221.65,187.04 L221.92,186.28 L222.19,187.17 L222.46,187.38 L222.73,188.25 L223.00,187.36 L223.27,188.34 L223.54,188.23 L223.81,186.59 L224.08,186.26 L224.35,186.65 L224.62,186.94 L224.89,186.45 L225.16,187.63 L225.43,187.57 L225.70,187.96 L225.97,187.17 L226.24,186.54 L226.51,187.17 L226.78,186.05 L227.05,186.85 L227.32,186.06 L227.59,187.56 L227.86,184.42 L228.13,187.21 L228.40,187.18 L228.67,186.38 L228.94,186.63 L229.21,186.47 L229.48,187.30 L229.75,187.54 L230.02,186.16 L230.29,187.42 L230.56,185.52 L230.83,186.32 L231.10,186.29 L231.37,184.86 L231.64,186.09 L231.91,185.23 L232.18,186.36 L232.45,184.94 L232.72,184.16 L232.99,184.47 L233.26,185.46 L233.53,185.61 L233.80,185.55 L234.07,184.55 L234.34,185.71 L234.61,184.51 L234.88,184.66 L235.15,185.53 L235.42,184.49 L235.69,182.99 L235.96,184.97 L236.23,184.28 L236.50,183.86 L236.77,185.10 L237.04,183.44 L237.31,184.36 L237.58,183.83 L237.85,185.71 L238.12,182.04 L238.39,183.54 L238.66,183.55 L238.93,184.05 L239.20,182.69 L239.47,182.40 L239.74,183.91 L240.01,182.30 L240.28,182.73 L240.55,182.32 L240.82,182.52 L241.09,180.96 L241.36,181.46 L241.63,181.70 L241.90,181.68 L242.17,182.32 L242.44,181.69 L242.71,181.59 L242.98,180.92 L243.25,181.83 L243.52,180.16 L243.79,180.42 L244.06,179.14 L244.33,179.34 L244.60,180.72 L244.87,179.84 L245.14,178.22 L245.41,179.53 L245.68,179.21 L245.95,178.32 L246.22,179.34 L246.49,178.68 L246.76,178.74 L247.03,179.31 L247.30,177.87 L247.57,179.06 L247.84,177.78 L248.11,177.60 L248.38,178.67 L248.65,177.74 L248.92,176.92 L249.19,176.97 L249.46,177.05 L249.73,175.51 L250.00,177.04 L250.27,176.31 L250.54,175.08 L250.81,175.18 L251.08,176.45 L251.35,174.54 L251.62,177.12 L251.89,174.33 L252.16,175.17 L252.43,172.75 L252.70,174.58 L252.97,174.03 L253.24,174.66 L253.51,174.24 L253.78,173.63 L254.05,175.46 L254.32,174.17 L254.59,172.77 L254.86,173.47 L255.13,170.67 L255.40,172.35 L255.67,173.65 L255.94,172.01 L256.21,172.40 L256.48,171.17 L256.75,172.56 L257.02,171.84 L257.29,171.57 L257.56,172.14 L257.83,172.53 L258.10,171.67 L258.37,169.45 L258.64,170.99 L258.91,170.69 L259.18,169.37 L259.45,168.80 L259.72,169.59 L259.99,169.48 L260.26,169.48 L260.53,168.74 L260.80,169.26 L261.07,169.18 L261.34,168.51 L261.61,168.86 L261.88,167.89 L262.15,166.92 L262.42,168.03 L262.69,168.60 L262.96,169.94 L263.23,165.92 L263.50,167.12 L263.77,166.73 L264.04,167.58 L264.31,166.57 L264.58,167.31 L264.85,167.93 L265.12,166.44 L265.39,166.91 L265.66,168.21 L265.93,167.54 L266.20,165.43 L266.47,168.34 L266.74,166.03 L267.01,166.75 L267.28,166.10 L267.55,165.98 L267.82,165.71 L268.09,166.70 L268.36,165.49 L268.63,165.02 L268.90,165.50 L269.17,165.89 L269.44,164.18 L269.71,166.37 L269.98,165.07 L270.25,166.16 L270.52,166.62 L270.79,165.67 L271.06,165.77 L271.33,164.90 L271.60,164.64 L271.87,163.57 L272.14,164.87 L272.41,164.51 L272.68,162.96 L272.95,165.02 L273.22,165.95 L273.49,164.99 L273.76,165.55 L274.03,164.34 L274.30,163.70 L274.57,164.55 L274.84,164.20 L275.11,163.55 L275.38,165.30 L275.65,164.60 L275.92,163.93 L276.19,164.62 L276.46,164.35 L276.73,164.97 L277.00,165.76 L277.27,163.97 L277.54,163.50 L277.81,165.58 L278.08,166.41 L278.35,163.98 L278.62,163.73 L278.89,163.50 L279.16,164.46 L279.43,164.56 L279.70,164.26 L279.97,165.15 L280.24,163.81 L280.51,163.99 L280.78,163.46 L281.05,165.59 L281.32,165.34 L281.59,165.53 L281.86,163.79 L282.13,165.56 L282.40,164.71 L282.67,165.06 L282.94,164.95 L283.21,164.23 L283.48,164.37 L283.75,163.29 L284.02,164.13 L284.29,164.43 L284.56,163.72 L284.83,164.79 L285.10,165.81 L285.37,164.44 L285.64,164.13 L285.91,164.29 L286.18,165.20 L286.45,166.52 L286.72,165.31 L286.99,165.29 L287.26,164.31 L287.53,165.65 L287.80,165.95 L288.07,165.19 L288.34,165.56 L288.61,165.11 L288.88,166.31 L289.15,166.86 L289.42,166.15 L289.69,166.32 L289.96,166.02 L290.23,165.53 L290.50,165.49 L290.77,165.85 L291.04,166.35 L291.31,166.34 L291.58,167.26 L291.85,167.15 L292.12,167.89 L292.39,167.46 L292.66,166.79 L292.93,167.24 L293.20,166.04 L293.47,168.89 L293.74,167.26 L294.01,167.60 L294.28,169.59 L294.55,167.45 L294.82,168.01 L295.09,168.65 L295.36,168.43 L295.63,169.16 L295.90,169.48 L296.17,169.99 L296.44,169.58 L296.71,170.42 L296.98,169.79 L297.25,170.74 L297.52,171.38 L297.79,169.22 L298.06,170.61 L298.33,171.11 L298.60,169.61 L298.87,168.84 L299.14,171.72 L299.41,171.11 L299.68,172.42 L299.95,171.94 L300.22,172.10 L300.49,171.99 L300.76,172.51 L301.03,171.86 L301.30,172.33 L301.57,173.54 L301.84,172.87 L302.11,173.64 L302.38,173.38 L302.65,173.28 L302.92,172.93 L303.19,174.55 L303.46,173.36 L303.73,174.49 L304.00,173.10 L304.27,174.73 L304.54,174.98 L304.81,174.32 L305.08,173.69 L305.35,175.02 L305.62,175.39 L305.89,175.04 L306.16,175.07 L306.43,176.50 L306.70,175.82 L306.97,175.72 L307.24,176.87 L307.51,176.31 L307.78,175.90 L308.05,177.64 L308.32,176.28 L308.59,177.96 L308.86,176.16 L309.13,177.50 L309.40,178.73 L309.67,177.92 L309.94,178.10 L310.21,178.17 L310.48,178.79 L310.75,177.99 L311.02,178.56 L311.29,177.88 L311.56,180.61 L311.83,177.36 L312.10,179.54 L312.37,177.49 L312.64,179.45 L312.91,180.51 L313.18,177.75 L313.45,181.31 L313.72,178.17 L313.99,178.47 L314.26,179.98 L314.53,178.40 L314.80,181.04 L315.07,180.60 L315.34,176.89 L315.61,178.60 L315.88,179.59 L316.15,181.12 L316.42,179.49 L316.69,180.08 L316.96,181.85 L317.23,180.07 L317.50,181.78 L317.77,179.95 L318.04,182.95 L318.31,183.62 L318.58,180.70 L318.85,179.40 L319.12,180.38 L319.39,183.71 L319.66,182.04 L319.93,184.14 L320.20,181.44 L320.47,182.08 L320.74,183.22 L321.01,184.81 L321.28,183.43 L321.55,182.62 L321.82,184.37 L322.09,184.28 L322.36,184.94 L322.63,184.29 L322.90,183.92 L323.17,184.85 L323.44,182.02 L323.71,185.47 L323.98,186.79 L324.25,186.14 L324.52,184.50 L324.79,183.97 L325.06,187.55 L325.33,185.53 L325.60,186.05 L325.87,186.74 L326.14,185.93 L326.41,186.85 L326.68,188.77 L326.95,186.55 L327.22,189.61 L327.49,187.94 L327.76,188.03 L328.03,188.95 L328.30,189.09 L328.57,189.42 L328.84,188.99 L329.11,187.79 L329.38,190.61 L329.65,188.65 L329.92,187.99 L330.19,190.24 L330.46,190.11 L330.73,189.46 L331.00,189.76 L331.27,190.54 L331.54,192.31 L331.81,190.08 L332.08,188.83 L332.35,189.83 L332.62,191.29 L332.89,190.60 L333.16,190.22 L333.43,192.06 L333.70,192.23 L333.97,191.26 L334.24,192.00 L334.51,191.05 L334.78,191.22 L335.05,191.68 L335.32,190.58 L335.59,192.74 L335.86,192.36 L336.13,191.96 L336.40,192.81 L336.67,192.95 L336.94,192.01 L337.21,192.30 L337.48,192.17 L337.75,194.86 L338.02,191.33 L338.29,193.36 L338.56,194.57 L338.83,192.38 L339.10,192.64 L339.37,192.73 L339.64,191.84 L339.91,195.52 L340.18,193.92 L340.45,192.98 L340.72,193.65 L340.99,194.72 L341.26,194.22 L341.53,193.65 L341.80,195.44 L342.07,193.88 L342.34,194.58 L342.61,195.37 L342.88,194.41 L343.15,195.48 L343.42,194.73 L343.69,198.81 L343.96,195.23 L344.23,196.66 L344.50,194.92 L344.77,194.72 L345.04,196.02 L345.31,195.85 L345.58,195.95 L345.85,196.39 L346.12,197.55" stroke="#e07a1c"/>
<path d="M192.90,192.12 L193.17,192.74 L193.44,185.71 L193.71,192.75 L193.98,192.85 L194.25,186.43 L194.52,187.86 L194.79,189.76 L195.06,195.60 L195.33,190.87 L195.60,191.16 L195.87,195.06 L196.14,192.19 L196.41,192.64 L196.68,194.35 L196.95,193.88 L197.22,189.92 L197.49,192.20 L197.76,195.48 L198.03,192.65 L198.30,196.68 L198.57,195.17 L198.84,195.87 L199.11,196.18 L199.38,193.94 L199.65,195.55 L199.92,195.44 L200.19,197.13 L200.46,198.74 L200.73,197.04 L201.00,197.53 L201.27,195.62 L201.54,197.37 L201.81,197.61 L202.08,197.77 L202.35,198.61 L202.62,199.45 L202.89,198.22 L203.16,198.67 L203.43,197.19 L203.70,199.02 L203.97,198.66 L204.24,197.32 L204.51,199.08 L204.78,198.38 L205.05,199.81 L205.32,199.46 L205.59,199.25 L205.86,200.65 L206.13,199.23 L206.40,199.20 L206.67,199.56 L206.94,199.70 L207.21,199.00 L207.48,200.21 L207.75,200.15 L208.02,199.45 L208.29,198.67 L208.56,200.94 L208.83,201.08 L209.10,200.80 L209.37,200.92 L209.64,201.62 L209.91,200.50 L210.18,201.60 L210.45,200.22 L210.72,199.70 L210.99,200.46 L211.26,200.25 L211.53,200.94 L211.80,202.05 L212.07,200.98 L212.34,201.54 L212.61,202.45 L212.88,202.22 L213.15,200.88 L213.42,200.27 L213.69,202.52 L213.96,199.94 L214.23,199.31 L214.50,199.13 L214.77,201.62 L215.04,199.43 L215.31,200.35 L215.58,200.38 L215.85,201.47 L216.12,199.25 L216.39,200.33 L216.66,200.47 L216.93,201.30 L217.20,199.90 L217.47,200.25 L217.74,199.74 L218.01,200.78 L218.28,200.60 L218.55,199.46 L218.82,200.15 L219.09,198.45 L219.36,199.64 L219.63,198.80 L219.90,199.11 L220.17,200.20 L220.44,201.05 L220.71,199.42 L220.98,199.07 L221.25,198.84 L221.52,199.65 L221.79,198.83 L222.06,199.70 L222.33,200.08 L222.60,199.27 L222.87,198.38 L223.14,199.24 L223.41,198.00 L223.68,197.06 L223.95,199.34 L224.22,199.89 L224.49,199.34 L224.76,197.91 L225.03,195.40 L225.30,197.47 L225.57,198.49 L225.84,197.59 L226.11,198.96 L226.38,197.08 L226.65,198.05 L226.92,197.73 L227.19,197.64 L227.46,196.18 L227.73,197.11 L228.00,197.28 L228.27,196.61 L228.54,195.74 L228.81,196.27 L229.08,195.76 L229.35,196.68 L229.62,197.05 L229.89,196.39 L230.16,196.30 L230.43,195.72 L230.70,195.88 L230.97,194.02 L231.24,195.52 L231.51,196.05 L231.78,194.77 L232.05,195.62 L232.32,193.70 L232.59,194.80 L232.86,194.42 L233.13,194.75 L233.40,194.27 L233.67,195.72 L233.94,191.07 L234.21,192.19 L234.48,192.52 L234.75,192.83 L235.02,191.91 L235.29,191.58 L235.56,190.53 L235.83,190.39 L236.10,190.47 L236.37,192.10 L236.64,189.89 L236.91,192.48 L237.18,190.79 L237.45,189.36 L237.72,189.92 L237.99,189.73 L238.26,187.56 L238.53,186.83 L238.80,188.96 L239.07,186.58 L239.34,187.65 L239.61,187.07 L239.88,184.73 L240.15,186.19 L240.42,185.70 L240.69,185.86 L240.96,184.36 L241.23,184.33 L241.50,183.85 L241.77,182.92 L242.04,184.02 L242.31,183.05 L242.58,183.08 L242.85,181.67 L243.12,181.87 L243.39,179.68 L243.66,179.47 L243.93,180.31 L244.20,178.81 L244.47,178.16 L244.74,178.10 L245.01,176.16 L245.28,177.07 L245.55,176.81 L245.82,175.63 L246.09,174.46 L246.36,176.28 L246.63,174.68 L246.90,172.98 L247.17,172.82 L247.44,171.46 L247.71,170.81 L247.98,170.10 L248.25,170.37 L248.52,170.76 L248.79,170.37 L249.06,168.99 L249.33,169.20 L249.60,168.10 L249.87,165.94 L250.14,165.42 L250.41,165.58 L250.68,165.14 L250.95,164.72 L251.22,161.98 L251.49,160.80 L251.76,163.33 L252.03,160.78 L252.30,161.16 L252.57,159.73 L252.84,157.96 L253.11,159.62 L253.38,158.26 L253.65,158.49 L253.92,157.19 L254.19,155.29 L254.46,155.47 L254.73,155.72 L255.00,153.75 L255.27,153.87 L255.54,154.07 L255.81,151.53 L256.08,151.65 L256.35,151.53 L256.62,151.61 L256.89,150.21 L257.16,149.17 L257.43,149.68 L257.70,148.21 L257.97,148.55 L258.24,148.00 L258.51,147.04 L258.78,147.40 L259.05,147.16 L259.32,144.64 L259.59,145.62 L259.86,144.56 L260.13,143.95 L260.40,143.76 L260.67,144.15 L260.94,142.57 L261.21,141.93 L261.48,140.67 L261.75,141.07 L262.02,140.73 L262.29,139.48 L262.56,139.55 L262.83,139.73 L263.10,140.02 L263.37,138.23 L263.64,139.67 L263.91,138.46 L264.18,137.97 L264.45,137.37 L264.72,136.61 L264.99,135.66 L265.26,135.77 L265.53,135.54 L265.80,135.29 L266.07,136.08 L266.34,136.13 L266.61,134.61 L266.88,134.66 L267.15,132.96 L267.42,131.57 L267.69,132.77 L267.96,132.72 L268.23,133.33 L268.50,133.82 L268.77,131.75 L269.04,132.26 L269.31,131.77 L269.58,130.71 L269.85,130.88 L270.12,130.21 L270.39,130.85 L270.66,128.45 L270.93,127.14 L271.20,128.86 L271.47,129.24 L271.74,129.10 L272.01,127.55 L272.28,128.22 L272.55,127.02 L272.82,127.88 L273.09,126.49 L273.36,125.99 L273.63,127.40 L273.90,125.39 L274.17,124.98 L274.44,126.58 L274.71,125.79 L274.98,123.61 L275.25,126.21 L275.52,124.03 L275.79,124.42 L276.06,124.47 L276.33,125.96 L276.60,124.08 L276.87,124.60 L277.14,123.53 L277.41,123.82 L277.68,122.04 L277.95,122.95 L278.22,122.24 L278.49,121.71 L278.76,122.59 L279.03,123.02 L279.30,122.41 L279.57,121.63 L279.84,122.35 L280.11,120.74 L280.38,121.80 L280.65,121.86 L280.92,121.27 L281.19,121.04 L281.46,121.24 L281.73,120.59 L282.00,120.77 L282.27,121.44 L282.54,119.19 L282.81,121.66 L283.08,120.92 L283.35,120.62 L283.62,119.53 L283.89,119.91 L284.16,119.66 L284.43,120.59 L284.70,120.48 L284.97,120.86 L285.24,119.95 L285.51,118.27 L285.78,119.15 L286.05,119.69 L286.32,120.33 L286.59,118.96 L286.86,120.14 L287.13,120.49 L287.40,120.09 L287.67,120.55 L287.94,122.67 L288.21,120.95 L288.48,122.69 L288.75,121.42 L289.02,120.79 L289.29,121.94 L289.56,121.29 L289.83,121.70 L290.10,120.08 L290.37,122.30 L290.64,121.68 L290.91,123.19 L291.18,122.52 L291.45,122.30 L291.72,121.95 L291.99,123.03 L292.26,122.94 L292.53,122.87 L292.80,125.28 L293.07,123.95 L293.34,125.10 L293.61,125.88 L293.88,125.34 L294.15,125.84 L294.42,126.06 L294.69,126.74 L294.96,126.75 L295.23,127.03 L295.50,127.09 L295.77,126.96 L296.04,127.40 L296.31,127.64 L296.58,128.74 L296.85,130.08 L297.12,128.73 L297.39,129.48 L297.66,129.66 L297.93,130.88 L298.20,132.22 L298.47,131.61 L298.74,132.60 L299.01,130.97 L299.28,133.20 L299.55,134.18 L299.82,133.78 L300.09,133.45 L300.36,135.61 L300.63,135.65 L300.90,137.68 L301.17,136.25 L301.44,137.08 L301.71,137.40 L301.98,138.28 L302.25,137.24 L302.52,140.28 L302.79,140.20 L303.06,140.00 L303.33,140.39 L303.60,141.59 L303.87,141.96 L304.14,141.83 L304.41,142.53 L304.68,143.45 L304.95,143.34 L305.22,143.93 L305.49,144.37 L305.76,144.94 L306.03,144.71 L306.30,145.53 L306.57,147.11 L306.84,147.98 L307.11,147.84 L307.38,145.55 L307.65,147.77 L307.92,149.81 L308.19,152.59 L308.46,152.39 L308.73,150.78 L309.00,151.09 L309.27,151.50 L309.54,155.31 L309.81,153.54 L310.08,152.28 L310.35,155.61 L310.62,155.91 L310.89,152.05 L311.16,154.61 L311.43,157.55 L311.70,157.84 L311.97,155.01 L312.24,157.34 L312.51,159.12 L312.78,158.75 L313.05,157.07 L313.32,158.83 L313.59,160.56 L313.86,160.74 L314.13,158.97 L314.40,164.41 L314.67,161.60 L314.94,159.39 L315.21,161.55 L315.48,158.26 L315.75,161.74 L316.02,163.06 L316.29,167.11 L316.56,164.08 L316.83,164.66 L317.10,165.58 L317.37,165.07 L317.64,164.17 L317.91,167.46 L318.18,166.52 L318.45,168.39 L318.72,167.94 L318.99,165.28 L319.26,166.33 L319.53,166.74 L319.80,167.09 L320.07,168.68 L320.34,168.05 L320.61,167.41 L320.88,171.12 L321.15,171.23 L321.42,169.49 L321.69,168.07 L321.96,168.97 L322.23,168.98 L322.50,168.98 L322.77,169.05 L323.04,171.08 L323.31,171.37 L323.58,171.77 L323.85,169.92 L324.12,171.97 L324.39,174.72 L324.66,172.28 L324.93,171.53 L325.20,176.44 L325.47,172.99 L325.74,171.78 L326.01,174.25 L326.28,172.04 L326.55,172.76 L326.82,175.00 L327.09,172.74 L327.36,171.58 L327.63,175.03 L327.90,175.36 L328.17,172.16 L328.44,173.83 L328.71,176.11 L328.98,174.96 L329.25,175.96 L329.52,174.63 L329.79,173.98 L330.06,174.20 L330.33,174.69 L330.60,175.54 L330.87,171.33 L331.14,172.62 L331.41,175.63 L331.68,176.74 L331.95,174.86 L332.22,175.97 L332.49,174.46 L332.76,174.11 L333.03,176.55 L333.30,176.32 L333.57,175.77 L333.84,174.69 L334.11,176.87 L334.38,176.78 L334.65,176.60 L334.92,176.92 L335.19,176.66 L335.46,178.11 L335.73,178.03 L336.00,180.22 L336.27,179.77 L336.54,177.71 L336.81,176.04 L337.08,178.94 L337.35,177.21 L337.62,180.50 L337.89,176.11 L338.16,177.80 L338.43,180.86 L338.70,178.68 L338.97,179.87 L339.24,179.89 L339.51,178.28 L339.78,180.39 L340.05,177.94 L340.32,178.86 L340.59,182.63 L340.86,179.29 L341.13,180.22 L341.40,178.17 L341.67,181.88 L341.94,178.59 L342.21,178.96 L342.48,179.26 L342.75,178.84 L343.02,178.23 L343.29,180.01 L343.56,179.82 L343.83,180.49 L344.10,179.27 L344.37,179.48 L344.64,180.45 L344.91,181.02 L345.18,179.74 L345.45,181.15 L345.72,180.93 L345.99,182.92 L346.26,182.35" stroke="#2a10ff"/>
</g>
<g fill="none" stroke="#0a0a0a" stroke-linejoin="round">
<path d="M430.00,129.70 L430.27,130.61 L430.54,130.23 L430.81,132.36 L431.08,132.54 L431.35,133.17 L431.62,134.83 L431.89,134.95 L432.16,137.91 L432.43,138.01 L432.70,137.97 L432.97,139.31 L433.24,140.82 L433.51,141.88 L433.78,143.64 L434.05,145.01 L434.32,146.19 L434.59,146.97 L434.86,147.09 L435.13,149.52 L435.40,150.65 L435.67,149.58 L435.94,151.43 L436.21,152.47 L436.48,153.04 L436.75,155.03 L437.02,155.40 L437.29,155.84 L437.56,155.65 L437.83,155.73 L438.10,157.09 L438.37,157.79 L438.64,158.36 L438.91,158.17 L439.18,159.14 L439.45,160.42 L439.72,161.47 L439.99,161.44 L440.26,162.14 L440.53,162.74 L440.80,163.22 L441.07,164.52 L441.34,163.67 L441.61,164.75 L441.88,164.11 L442.15,166.05 L442.42,165.99 L442.69,166.34 L442.96,165.88 L443.23,164.00 L443.50,165.01 L443.77,165.98 L444.04,166.58 L444.31,163.79 L444.58,166.66 L444.85,164.89 L445.12,165.65 L445.39,163.50 L445.66,165.06 L445.93,165.61 L446.20,164.87 L446.47,166.09 L446.74,164.83 L447.01,165.14 L447.28,164.21 L447.55,164.18 L447.82,164.13 L448.09,164.61 L448.36,165.25 L448.63,164.05 L448.90,163.05 L449.17,163.36 L449.44,162.73 L449.71,163.81 L449.98,163.38 L450.25,162.52 L450.52,162.85 L450.79,163.57 L451.06,163.12 L451.33,162.31 L451.60,163.04 L451.87,162.67 L452.14,161.92 L452.41,162.27 L452.68,163.24 L452.95,161.15 L453.22,162.41 L453.49,161.51 L453.76,161.89 L454.03,161.60 L454.30,161.38 L454.57,160.96 L454.84,160.93 L455.11,161.24 L455.38,160.96 L455.65,159.55 L455.92,160.67 L456.19,161.09 L456.46,160.67 L456.73,160.07 L457.00,158.58 L457.27,160.02 L457.54,159.92 L457.81,160.29 L458.08,158.55 L458.35,158.87 L458.62,158.52 L458.89,158.54 L459.16,157.43 L459.43,158.11 L459.70,157.98 L459.97,157.86 L460.24,159.01 L460.51,157.39 L460.78,157.36 L461.05,158.24 L461.32,156.98 L461.59,157.99 L461.86,157.34 L462.13,156.48 L462.40,156.24 L462.67,156.58 L462.94,156.10 L463.21,156.01 L463.48,155.24 L463.75,155.66 L464.02,154.43 L464.29,154.15 L464.56,153.88 L464.83,152.72 L465.10,152.88 L465.37,152.50 L465.64,151.23 L465.91,150.54 L466.18,152.09 L466.45,150.64 L466.72,150.27 L466.99,149.49 L467.26,150.49 L467.53,148.86 L467.80,147.36 L468.07,148.41 L468.34,147.01 L468.61,147.50 L468.88,146.70 L469.15,147.21 L469.42,146.27 L469.69,145.30 L469.96,146.09 L470.23,146.56 L470.50,144.01 L470.77,144.69 L471.04,143.83 L471.31,143.49 L471.58,141.98 L471.85,141.76 L472.12,142.95 L472.39,141.72 L472.66,140.88 L472.93,142.03 L473.20,141.25 L473.47,140.54 L473.74,139.01 L474.01,139.26 L474.28,139.85 L474.55,137.15 L474.82,137.10 L475.09,137.32 L475.36,138.22 L475.63,137.49 L475.90,137.44 L476.17,137.08 L476.44,136.88 L476.71,137.51 L476.98,139.02 L477.25,136.84 L477.52,137.32 L477.79,136.06 L478.06,137.34 L478.33,136.25 L478.60,136.21 L478.87,135.70 L479.14,135.41 L479.41,135.48 L479.68,135.14 L479.95,134.91 L480.22,137.00 L480.49,136.10 L480.76,136.53 L481.03,136.30 L481.30,135.13 L481.57,136.24 L481.84,135.79 L482.11,136.01 L482.38,136.64 L482.65,136.99 L482.92,137.11 L483.19,137.30 L483.46,137.18 L483.73,137.57 L484.00,138.56 L484.27,139.37 L484.54,138.85 L484.81,138.14 L485.08,138.75 L485.35,139.34 L485.62,139.58 L485.89,139.94 L486.16,140.17 L486.43,139.82 L486.70,139.58 L486.97,138.95 L487.24,140.92 L487.51,140.80 L487.78,139.91 L488.05,140.51 L488.32,140.16 L488.59,139.97 L488.86,141.20 L489.13,139.45 L489.40,140.91 L489.67,138.68 L489.94,137.73 L490.21,137.72 L490.48,138.66 L490.75,136.32 L491.02,136.15 L491.29,133.64 L491.56,134.91 L491.83,132.92 L492.10,133.08 L492.37,133.38 L492.64,131.60 L492.91,131.56 L493.18,130.25 L493.45,129.49 L493.72,129.23 L493.99,129.10 L494.26,127.77 L494.53,127.02 L494.80,125.73 L495.07,124.58 L495.34,125.14 L495.61,124.27 L495.88,123.92 L496.15,123.77 L496.42,122.97 L496.69,121.16 L496.96,121.26 L497.23,120.61 L497.50,119.59 L497.77,117.57 L498.04,117.88 L498.31,117.69 L498.58,117.59 L498.85,116.20 L499.12,114.80 L499.39,115.99 L499.66,114.38 L499.93,113.43 L500.20,113.44 L500.47,112.91 L500.74,111.76 L501.01,110.79 L501.28,110.22 L501.55,110.68 L501.82,109.44 L502.09,109.42 L502.36,107.05 L502.63,107.68 L502.90,107.29 L503.17,106.74 L503.44,105.03 L503.71,105.80 L503.98,107.05 L504.25,105.49 L504.52,104.29 L504.79,103.63 L505.06,102.57 L505.33,103.54 L505.60,102.12 L505.87,102.01 L506.14,102.76 L506.41,102.35 L506.68,101.57 L506.95,98.86 L507.22,99.52 L507.49,100.89 L507.76,98.09 L508.03,100.27 L508.30,98.59 L508.57,99.32 L508.84,97.57 L509.11,96.47 L509.38,96.35 L509.65,98.84 L509.92,96.57 L510.19,95.26 L510.46,97.34 L510.73,94.31 L511.00,95.66 L511.27,95.99 L511.54,95.67 L511.81,95.56 L512.08,94.66 L512.35,91.43 L512.62,94.54 L512.89,93.90 L513.16,93.43 L513.43,94.05 L513.70,94.15 L513.97,93.15 L514.24,94.61 L514.51,95.29 L514.78,92.45 L515.05,91.32 L515.32,89.74 L515.59,92.09 L515.86,88.53 L516.13,93.20 L516.40,91.97 L516.67,89.57 L516.94,91.11 L517.21,88.62 L517.48,88.05 L517.75,90.62 L518.02,87.72 L518.29,89.42 L518.56,88.63 L518.83,91.04 L519.10,88.89 L519.37,90.67 L519.64,89.35 L519.91,86.53 L520.18,85.66 L520.45,83.90 L520.72,87.17 L520.99,82.31 L521.26,85.32 L521.53,82.43 L521.80,85.21 L522.07,87.24 L522.34,84.32 L522.61,84.66 L522.88,84.60 L523.15,85.66 L523.42,82.39 L523.69,85.01 L523.96,84.46 L524.23,82.62 L524.50,82.56 L524.77,86.41 L525.04,85.41 L525.31,84.76 L525.58,82.30 L525.85,83.10 L526.12,81.18 L526.39,80.17 L526.66,82.51 L526.93,82.14 L527.20,80.77 L527.47,80.70 L527.74,83.69 L528.01,81.94 L528.28,79.60 L528.55,86.71 L528.82,79.02 L529.09,82.84 L529.36,80.25 L529.63,83.58 L529.90,82.23 L530.17,84.08 L530.44,81.71 L530.71,80.16 L530.98,84.69 L531.25,81.42 L531.52,81.01 L531.79,81.05 L532.06,79.75" stroke-width="1.4"/>
<path d="M532.20,79.57 L532.60,82.59 L533.00,84.49 L533.40,84.30 L533.80,82.17 L534.20,81.58 L534.60,80.42 L535.00,88.31 L535.40,88.91 L535.80,89.43 L536.20,89.10 L536.60,89.68 L537.00,91.54 L537.40,83.18 L537.80,87.85 L538.20,87.48 L538.60,95.38 L539.00,92.55 L539.40,93.97 L539.80,101.70 L540.20,80.91 L540.60,96.83 L541.00,104.21 L541.40,112.11 L541.80,81.54 L542.20,83.43 L542.60,97.91 L543.00,99.81 L543.40,105.51 L543.80,97.90 L544.20,97.56 L544.60,108.56 L545.00,92.74 L545.40,122.28 L545.80,95.72 L546.20,123.97 L546.60,99.44 L547.00,144.00 L547.40,107.51 L547.80,100.80 L548.20,111.85 L548.60,77.13 L549.00,115.92 L549.40,77.05 L549.80,56.50 L550.20,124.95 L550.60,74.62 L551.00,83.50 L551.40,123.10 L551.80,77.92 L552.20,95.99 L552.60,80.92 L553.00,102.42 L553.40,153.70 L553.80,108.04 L554.20,118.54 L554.60,124.14 L555.00,85.38 L555.40,120.00 L555.80,100.11 L556.20,107.75 L556.60,64.50 L557.00,95.95 L557.40,171.50 L557.80,98.10 L558.20,88.22 L558.60,101.85 L559.00,62.20 L559.40,102.91 L559.80,80.56 L560.20,93.53 L560.60,126.08 L561.00,85.92 L561.40,84.19 L561.80,115.21 L562.20,90.15 L562.60,86.54 L563.00,88.69 L563.40,84.64 L563.80,103.74 L564.20,120.12 L564.60,105.62 L565.00,92.36 L565.40,87.52 L565.80,107.36 L566.20,92.47 L566.60,129.12 L567.00,100.46 L567.40,133.00 L567.80,121.19 L568.20,126.41 L568.60,126.52 L569.00,108.62 L569.40,101.68 L569.80,128.04 L570.20,101.42 L570.60,127.29 L571.00,125.33 L571.40,106.31 L571.80,103.27 L572.20,137.30 L572.60,114.90 L573.00,123.68 L573.40,115.81 L573.80,109.47 L574.20,118.91 L574.60,114.90 L575.00,130.91 L575.40,125.94 L575.80,121.24 L576.20,130.82 L576.60,130.67 L577.00,123.03 L577.40,128.66 L577.80,127.36" stroke-width="1.0" stroke-dasharray="1.8 1.7"/>
<path d="M577.90,131.24 L578.17,133.91 L578.44,134.33 L578.71,133.27 L578.98,134.70 L579.25,135.83 L579.52,134.61 L579.79,138.77 L580.06,137.66 L580.33,135.29 L580.60,139.97 L580.87,138.54 L581.14,141.37 L581.41,142.89 L581.68,142.29 L581.95,144.12 L582.22,146.71 L582.49,143.38 L582.76,143.45 L583.03,146.99 L583.30,147.55 L583.57,151.89 L583.84,150.94 L584.11,150.95 L584.38,150.70 L584.65,148.56 L584.92,150.20 L585.19,152.43 L585.46,153.88 L585.73,153.58 L586.00,155.04 L586.27,156.57 L586.54,154.97 L586.81,156.00 L587.08,155.75 L587.35,159.72 L587.62,155.29 L587.89,159.95 L588.16,160.80 L588.43,157.05 L588.70,160.04 L588.97,163.06 L589.24,160.54 L589.51,161.57 L589.78,162.90 L590.05,165.47 L590.32,164.82 L590.59,163.19 L590.86,162.48 L591.13,162.60 L591.40,165.76 L591.67,162.16 L591.94,164.92 L592.21,167.03 L592.48,164.54 L592.75,166.19 L593.02,166.81 L593.29,168.44 L593.56,165.47 L593.83,167.96 L594.10,168.06 L594.37,168.61 L594.64,166.30 L594.91,169.83 L595.18,168.04 L595.45,169.48 L595.72,168.65 L595.99,173.29 L596.26,170.68 L596.53,174.23 L596.80,170.25 L597.07,171.10 L597.34,174.14 L597.61,171.59 L597.88,173.17 L598.15,174.58 L598.42,172.53 L598.69,172.00 L598.96,173.33 L599.23,175.54 L599.50,178.50 L599.77,176.36 L600.04,174.07 L600.31,173.83 L600.58,172.87 L600.85,174.16 L601.12,173.68 L601.39,174.36 L601.66,173.03 L601.93,173.33 L602.20,173.90 L602.47,175.83 L602.74,173.76 L603.01,173.33 L603.28,175.76 L603.55,176.21 L603.82,173.60 L604.09,173.61 L604.36,171.15 L604.63,171.49 L604.90,173.78 L605.17,175.95 L605.44,176.61 L605.71,174.96 L605.98,172.86 L606.25,174.33 L606.52,171.16 L606.79,173.22 L607.06,171.40 L607.33,173.12 L607.60,175.21 L607.87,176.22 L608.14,173.04 L608.41,173.19 L608.68,169.87 L608.95,171.29 L609.22,174.52 L609.49,173.83 L609.76,173.18 L610.03,172.45 L610.30,174.17 L610.57,171.08 L610.84,171.05 L611.11,175.57 L611.38,169.74 L611.65,171.63 L611.92,170.22 L612.19,171.94 L612.46,170.35 L612.73,170.12 L613.00,169.96 L613.27,170.68 L613.54,169.01 L613.81,168.41 L614.08,169.29 L614.35,168.87 L614.62,169.36 L614.89,168.41 L615.16,167.97 L615.43,168.46 L615.70,168.34 L615.97,168.59 L616.24,167.58 L616.51,165.83 L616.78,167.03 L617.05,166.84 L617.32,166.52 L617.59,166.80 L617.86,165.91 L618.13,166.81 L618.40,165.43 L618.67,166.56 L618.94,164.25 L619.21,162.96 L619.48,163.78 L619.75,166.54 L620.02,163.68 L620.29,163.44 L620.56,163.37 L620.83,162.40 L621.10,162.56 L621.37,162.04 L621.64,163.22 L621.91,162.11 L622.18,160.96 L622.45,160.91 L622.72,160.43 L622.99,158.66 L623.26,160.04 L623.53,158.20 L623.80,158.92 L624.07,157.92 L624.34,158.05 L624.61,157.96 L624.88,156.74 L625.15,155.31 L625.42,154.87 L625.69,154.97 L625.96,153.56 L626.23,152.98 L626.50,152.58 L626.77,151.75 L627.04,151.79 L627.31,150.30 L627.58,150.00 L627.85,148.55 L628.12,146.92 L628.39,148.12 L628.66,147.38 L628.93,145.26 L629.20,145.37 L629.47,144.03 L629.74,141.90 L630.01,142.86 L630.28,139.35 L630.55,140.00 L630.82,139.71 L631.09,137.33 L631.36,138.62 L631.63,135.95 L631.90,136.56 L632.17,134.51 L632.44,134.34 L632.71,132.87 L632.98,133.96 L633.25,131.50 L633.52,131.12 L633.79,130.00 L634.06,128.70 L634.33,127.47 L634.60,127.13 L634.87,126.73 L635.14,125.79 L635.41,124.62 L635.68,123.20 L635.95,123.01 L636.22,120.75 L636.49,120.67 L636.76,118.15 L637.03,118.39 L637.30,117.97 L637.57,116.13 L637.84,115.54 L638.11,116.45 L638.38,115.34 L638.65,115.08 L638.92,114.43 L639.19,113.30 L639.46,112.74 L639.73,111.65 L640.00,111.77 L640.27,107.78 L640.54,109.11 L640.81,110.22 L641.08,109.25 L641.35,107.42 L641.62,106.14 L641.89,107.19 L642.16,105.01 L642.43,102.91 L642.70,105.62 L642.97,102.64 L643.24,102.79 L643.51,99.42 L643.78,97.34 L644.05,101.13 L644.32,102.24 L644.59,95.72 L644.86,97.69 L645.13,98.65 L645.40,97.48 L645.67,96.69 L645.94,95.97 L646.21,94.02 L646.48,96.53 L646.75,95.80 L647.02,94.38 L647.29,89.89 L647.56,95.27 L647.83,92.16 L648.10,92.49 L648.37,94.04 L648.64,92.59 L648.91,89.98 L649.18,91.18 L649.45,89.94 L649.72,87.66 L649.99,88.19 L650.26,84.83 L650.53,84.59 L650.80,86.69 L651.07,87.98 L651.34,83.91 L651.61,86.65 L651.88,84.60 L652.15,86.57 L652.42,82.89 L652.69,87.37 L652.96,83.19 L653.23,81.72 L653.50,82.01 L653.77,78.47 L654.04,81.27 L654.31,79.84 L654.58,80.62 L654.85,78.95 L655.12,74.95 L655.39,74.67 L655.66,77.13 L655.93,75.78 L656.20,78.53 L656.47,75.17 L656.74,77.00 L657.01,75.65 L657.28,77.76 L657.55,75.15 L657.82,74.87 L658.09,72.62 L658.36,74.24 L658.63,74.24 L658.90,72.63 L659.17,73.43 L659.44,70.40 L659.71,71.21 L659.98,71.74 L660.25,70.27 L660.52,72.18 L660.79,70.93 L661.06,68.68 L661.33,67.86 L661.60,68.87 L661.87,67.45 L662.14,67.58 L662.41,66.14 L662.68,68.61 L662.95,67.35 L663.22,67.19 L663.49,67.60 L663.76,62.60 L664.03,65.73 L664.30,64.98 L664.57,66.04 L664.84,65.48 L665.11,65.22 L665.38,66.10 L665.65,61.12 L665.92,62.07 L666.19,65.24 L666.46,65.36 L666.73,61.77 L667.00,64.42 L667.27,63.83 L667.54,60.26 L667.81,61.17 L668.08,62.35 L668.35,61.52 L668.62,64.08 L668.89,62.10 L669.16,62.37 L669.43,59.92 L669.70,58.97 L669.97,59.83 L670.24,62.82 L670.51,63.49 L670.78,59.57 L671.05,60.66 L671.32,57.26 L671.59,62.98 L671.86,59.28 L672.13,62.59 L672.40,63.27 L672.67,59.47 L672.94,60.25 L673.21,62.72 L673.48,63.78 L673.75,61.06 L674.02,60.38 L674.29,62.55 L674.56,64.02 L674.83,60.59 L675.10,61.16 L675.37,64.16 L675.64,62.84 L675.91,61.45 L676.18,62.82 L676.45,63.69 L676.72,64.67 L676.99,63.77 L677.26,63.51 L677.53,61.24 L677.80,64.77 L678.07,64.96 L678.34,64.73 L678.61,64.68 L678.88,65.06 L679.15,66.52 L679.42,64.77 L679.69,63.75 L679.96,67.12 L680.23,65.44 L680.50,65.83 L680.77,67.17 L681.04,66.46 L681.31,67.07 L681.58,65.86 L681.85,69.85 L682.12,66.33 L682.39,70.72 L682.66,67.33 L682.93,68.62 L683.20,69.51 L683.47,71.90 L683.74,71.36 L684.01,70.83 L684.28,70.12 L684.55,73.93 L684.82,72.95 L685.09,73.99 L685.36,73.60 L685.63,73.66 L685.90,75.97 L686.17,76.03 L686.44,77.93 L686.71,77.20 L686.98,75.52 L687.25,79.51 L687.52,79.21 L687.79,79.56 L688.06,76.06 L688.33,80.16 L688.60,82.43 L688.87,81.97 L689.14,83.97 L689.41,85.15 L689.68,84.88 L689.95,84.12 L690.22,86.75 L690.49,87.21 L690.76,86.84 L691.03,84.93 L691.30,86.45 L691.57,90.02 L691.84,88.98 L692.11,87.24 L692.38,90.17 L692.65,91.05 L692.92,92.47 L693.19,92.71 L693.46,93.16 L693.73,91.99 L694.00,91.18 L694.27,93.30 L694.54,96.79 L694.81,93.04 L695.08,98.22 L695.35,92.28 L695.62,93.35 L695.89,97.68 L696.16,95.72 L696.43,97.79 L696.70,95.86 L696.97,99.85 L697.24,102.33 L697.51,96.59 L697.78,102.54 L698.05,102.60 L698.32,104.23 L698.59,96.47 L698.86,105.58 L699.13,100.55 L699.40,103.51 L699.67,103.51 L699.94,102.45 L700.21,103.31 L700.48,104.09 L700.75,106.88 L701.02,108.72 L701.29,106.23 L701.56,109.40 L701.83,107.89 L702.10,110.75 L702.37,104.23 L702.64,108.36 L702.91,108.01 L703.18,108.65 L703.45,109.39 L703.72,110.78 L703.99,109.15 L704.26,110.32 L704.53,108.31 L704.80,108.84 L705.07,107.71 L705.34,112.46 L705.61,111.83 L705.88,113.33 L706.15,108.78 L706.42,109.71 L706.69,116.97 L706.96,113.33 L707.23,106.61 L707.50,112.56 L707.77,111.56 L708.04,109.73 L708.31,109.90 L708.58,108.34 L708.85,109.18 L709.12,108.48 L709.39,107.39 L709.66,109.46 L709.93,108.08 L710.20,112.35 L710.47,113.18 L710.74,109.94 L711.01,109.41 L711.28,112.01 L711.55,109.94 L711.82,115.66 L712.09,103.08 L712.36,103.86 L712.63,107.16 L712.90,111.38 L713.17,112.15 L713.44,108.73 L713.71,109.99 L713.98,109.09 L714.25,111.12 L714.52,115.16 L714.79,103.50 L715.06,115.51 L715.33,112.26 L715.60,108.47 L715.87,110.53 L716.14,109.03 L716.41,110.27 L716.68,110.16 L716.95,110.87 L717.22,105.95 L717.49,110.20 L717.76,106.67 L718.03,107.53 L718.30,110.37 L718.57,106.93 L718.84,108.83 L719.11,108.78 L719.38,108.07 L719.65,104.39 L719.92,108.90 L720.19,107.97 L720.46,113.39 L720.73,104.45 L721.00,110.01 L721.27,105.92 L721.54,106.15 L721.81,111.50 L722.08,106.44 L722.35,108.89 L722.62,107.01 L722.89,104.17 L723.16,105.96 L723.43,105.32 L723.70,105.85 L723.97,111.45 L724.24,107.63 L724.51,101.63 L724.78,111.35 L725.05,107.24 L725.32,108.59 L725.59,110.35 L725.86,103.85 L726.13,106.93 L726.40,105.59 L726.67,104.99 L726.94,105.06 L727.21,106.12 L727.48,108.94 L727.75,107.84 L728.02,106.48 L728.29,108.90 L728.56,99.34 L728.83,105.65 L729.10,106.47 L729.37,106.31 L729.64,109.24 L729.91,105.83 L730.18,109.02 L730.45,104.79 L730.72,107.09 L730.99,105.47 L731.26,104.47 L731.53,106.51 L731.80,106.64" stroke-width="1.4"/>
</g>
<path d="M56.79,230.9 v-2.3 M56.79,17.8 v2.3 M72.23,230.9 v-2.3 M72.23,17.8 v2.3 M87.67,230.9 v-4.4 M87.67,17.8 v4.4 M103.11,230.9 v-2.3 M103.11,17.8 v2.3 M118.55,230.9 v-2.3 M118.55,17.8 v2.3 M133.99,230.9 v-2.3 M133.99,17.8 v2.3 M149.43,230.9 v-4.4 M149.43,17.8 v4.4 M164.87,230.9 v-2.3 M164.87,17.8 v2.3 M180.31,230.9 v-2.3 M180.31,17.8 v2.3 M195.75,230.9 v-2.3 M195.75,17.8 v2.3 M211.19,230.9 v-4.4 M211.19,17.8 v4.4 M226.63,230.9 v-2.3 M226.63,17.8 v2.3 M242.07,230.9 v-2.3 M242.07,17.8 v2.3 M257.51,230.9 v-2.3 M257.51,17.8 v2.3 M272.95,230.9 v-4.4 M272.95,17.8 v4.4 M288.39,230.9 v-2.3 M288.39,17.8 v2.3 M303.83,230.9 v-2.3 M303.83,17.8 v2.3 M319.27,230.9 v-2.3 M319.27,17.8 v2.3 M334.71,230.9 v-4.4 M334.71,17.8 v4.4 M41.75,226.64 h3.3 M350.55,226.64 h-3.3 M41.75,222.38 h3.3 M350.55,222.38 h-3.3 M41.75,218.11 h3.3 M350.55,218.11 h-3.3 M41.75,213.85 h3.3 M350.55,213.85 h-3.3 M41.75,209.59 h3.3 M350.55,209.59 h-3.3 M41.75,205.33 h3.3 M350.55,205.33 h-3.3 M41.75,201.07 h3.3 M350.55,201.07 h-3.3 M41.75,196.80 h3.3 M350.55,196.80 h-3.3 M41.75,192.54 h3.3 M350.55,192.54 h-3.3 M41.75,188.28 h6.4 M350.55,188.28 h-6.4 M41.75,184.02 h3.3 M350.55,184.02 h-3.3 M41.75,179.76 h3.3 M350.55,179.76 h-3.3 M41.75,175.49 h3.3 M350.55,175.49 h-3.3 M41.75,171.23 h3.3 M350.55,171.23 h-3.3 M41.75,166.97 h3.3 M350.55,166.97 h-3.3 M41.75,162.71 h3.3 M350.55,162.71 h-3.3 M41.75,158.45 h3.3 M350.55,158.45 h-3.3 M41.75,154.18 h3.3 M350.55,154.18 h-3.3 M41.75,149.92 h3.3 M350.55,149.92 h-3.3 M41.75,145.66 h6.4 M350.55,145.66 h-6.4 M41.75,141.40 h3.3 M350.55,141.40 h-3.3 M41.75,137.14 h3.3 M350.55,137.14 h-3.3 M41.75,132.87 h3.3 M350.55,132.87 h-3.3 M41.75,128.61 h3.3 M350.55,128.61 h-3.3 M41.75,124.35 h3.3 M350.55,124.35 h-3.3 M41.75,120.09 h3.3 M350.55,120.09 h-3.3 M41.75,115.83 h3.3 M350.55,115.83 h-3.3 M41.75,111.56 h3.3 M350.55,111.56 h-3.3 M41.75,107.30 h3.3 M350.55,107.30 h-3.3 M41.75,103.04 h6.4 M350.55,103.04 h-6.4 M41.75,98.78 h3.3 M350.55,98.78 h-3.3 M41.75,94.52 h3.3 M350.55,94.52 h-3.3 M41.75,90.25 h3.3 M350.55,90.25 h-3.3 M41.75,85.99 h3.3 M350.55,85.99 h-3.3 M41.75,81.73 h3.3 M350.55,81.73 h-3.3 M41.75,77.47 h3.3 M350.55,77.47 h-3.3 M41.75,73.21 h3.3 M350.55,73.21 h-3.3 M41.75,68.94 h3.3 M350.55,68.94 h-3.3 M41.75,64.68 h3.3 M350.55,64.68 h-3.3 M41.75,60.42 h6.4 M350.55,60.42 h-6.4 M41.75,56.16 h3.3 M350.55,56.16 h-3.3 M41.75,51.90 h3.3 M350.55,51.90 h-3.3 M41.75,47.63 h3.3 M350.55,47.63 h-3.3 M41.75,43.37 h3.3 M350.55,43.37 h-3.3 M41.75,39.11 h3.3 M350.55,39.11 h-3.3 M41.75,34.85 h3.3 M350.55,34.85 h-3.3 M41.75,30.59 h3.3 M350.55,30.59 h-3.3 M41.75,26.32 h3.3 M350.55,26.32 h-3.3 M41.75,22.06 h3.3 M350.55,22.06 h-3.3 M442.54,230.9 v-2.3 M442.54,17.8 v2.3 M457.98,230.9 v-2.3 M457.98,17.8 v2.3 M473.42,230.9 v-4.4 M473.42,17.8 v4.4 M488.86,230.9 v-2.3 M488.86,17.8 v2.3 M504.30,230.9 v-2.3 M504.30,17.8 v2.3 M519.74,230.9 v-2.3 M519.74,17.8 v2.3 M535.18,230.9 v-4.4 M535.18,17.8 v4.4 M550.62,230.9 v-2.3 M550.62,17.8 v2.3 M566.06,230.9 v-2.3 M566.06,17.8 v2.3 M581.50,230.9 v-2.3 M581.50,17.8 v2.3 M596.94,230.9 v-4.4 M596.94,17.8 v4.4 M612.38,230.9 v-2.3 M612.38,17.8 v2.3 M627.82,230.9 v-2.3 M627.82,17.8 v2.3 M643.26,230.9 v-2.3 M643.26,17.8 v2.3 M658.70,230.9 v-4.4 M658.70,17.8 v4.4 M674.14,230.9 v-2.3 M674.14,17.8 v2.3 M689.58,230.9 v-2.3 M689.58,17.8 v2.3 M705.02,230.9 v-2.3 M705.02,17.8 v2.3 M720.46,230.9 v-4.4 M720.46,17.8 v4.4 M427.1,220.25 h3.3 M735.9,220.25 h-3.3 M427.1,209.59 h3.3 M735.9,209.59 h-3.3 M427.1,198.94 h3.3 M735.9,198.94 h-3.3 M427.1,188.28 h3.3 M735.9,188.28 h-3.3 M427.1,177.62 h6.4 M735.9,177.62 h-6.4 M427.1,166.97 h3.3 M735.9,166.97 h-3.3 M427.1,156.31 h3.3 M735.9,156.31 h-3.3 M427.1,145.66 h3.3 M735.9,145.66 h-3.3 M427.1,135.00 h3.3 M735.9,135.00 h-3.3 M427.1,124.35 h6.4 M735.9,124.35 h-6.4 M427.1,113.70 h3.3 M735.9,113.70 h-3.3 M427.1,103.04 h3.3 M735.9,103.04 h-3.3 M427.1,92.39 h3.3 M735.9,92.39 h-3.3 M427.1,81.73 h3.3 M735.9,81.73 h-3.3 M427.1,71.08 h6.4 M735.9,71.08 h-6.4 M427.1,60.42 h3.3 M735.9,60.42 h-3.3 M427.1,49.77 h3.3 M735.9,49.77 h-3.3 M427.1,39.11 h3.3 M735.9,39.11 h-3.3 M427.1,28.46 h3.3 M735.9,28.46 h-3.3" stroke="#5a5a5a" stroke-width="0.95" fill="none"/>
<path d="M41.75,17.8 H350.55 V230.9 H41.75 Z M427.1,17.8 H735.9 V230.9 H427.1 Z" stroke="#4c4c4c" stroke-width="1.0" fill="none"/>
<defs><filter id="ga" x="0" y="0" width="100%" height="100%" filterUnits="userSpaceOnUse" color-interpolation-filters="sRGB"><feColorMatrix type="matrix" values="1 0 0 0 0 0 1 0 0 0 0 0 1 0 0 0 0 0 1 0"/></filter></defs><g filter="url(#ga)">
<g stroke="#ffffff" stroke-width="0.22">
<text y="11.45" font-size="14.8" fill="#1a1a1a" transform="rotate(0.03 195.4 11.45)"><tspan x="102.35" textLength="55.15" lengthAdjust="spacing">Spectra</tspan> <tspan x="165.68" textLength="13.79" lengthAdjust="spacing">of</tspan> <tspan x="187.57" textLength="60.20" lengthAdjust="spacing">different</tspan> <tspan x="256.15" textLength="31.92" lengthAdjust="spacing">ROIs</tspan></text>
<text y="11.5" font-size="14.8" fill="#1a1a1a" transform="rotate(0.03 581.0 11.5)"><tspan x="445.25" textLength="37.22" lengthAdjust="spacing">Ratio</tspan> <tspan x="489.90" textLength="59.05" lengthAdjust="spacing">between</tspan> <tspan x="556.80" textLength="19.39" lengthAdjust="spacing">icy</tspan> <tspan x="584.17" textLength="26.38" lengthAdjust="spacing">and</tspan> <tspan x="617.80" textLength="57.58" lengthAdjust="spacing">non-icy</tspan> <tspan x="684.38" textLength="31.23" lengthAdjust="spacing">area</tspan></text>
<text x="87.6" y="248.65" transform="rotate(0.03 87.6 248.65)" font-size="12.4" text-anchor="middle" fill="#1a1a1a" textLength="18.7" lengthAdjust="spacing">1.6</text>
<text x="149.4" y="248.65" transform="rotate(0.03 149.4 248.65)" font-size="12.4" text-anchor="middle" fill="#1a1a1a" textLength="18.7" lengthAdjust="spacing">1.8</text>
<text x="211.1" y="248.65" transform="rotate(0.03 211.1 248.65)" font-size="12.4" text-anchor="middle" fill="#1a1a1a" textLength="18.7" lengthAdjust="spacing">2.0</text>
<text x="272.9" y="248.65" transform="rotate(0.03 272.9 248.65)" font-size="12.4" text-anchor="middle" fill="#1a1a1a" textLength="18.7" lengthAdjust="spacing">2.2</text>
<text x="334.7" y="248.65" transform="rotate(0.03 334.7 248.65)" font-size="12.4" text-anchor="middle" fill="#1a1a1a" textLength="18.7" lengthAdjust="spacing">2.4</text>
<text x="473.2" y="248.65" transform="rotate(0.03 473.2 248.65)" font-size="12.4" text-anchor="middle" fill="#1a1a1a" textLength="18.7" lengthAdjust="spacing">1.6</text>
<text x="535.0" y="248.65" transform="rotate(0.03 535.0 248.65)" font-size="12.4" text-anchor="middle" fill="#1a1a1a" textLength="18.7" lengthAdjust="spacing">1.8</text>
<text x="596.7" y="248.65" transform="rotate(0.03 596.7 248.65)" font-size="12.4" text-anchor="middle" fill="#1a1a1a" textLength="18.7" lengthAdjust="spacing">2.0</text>
<text x="658.5" y="248.65" transform="rotate(0.03 658.5 248.65)" font-size="12.4" text-anchor="middle" fill="#1a1a1a" textLength="18.7" lengthAdjust="spacing">2.2</text>
<text x="720.3" y="248.65" transform="rotate(0.03 720.3 248.65)" font-size="12.4" text-anchor="middle" fill="#1a1a1a" textLength="18.7" lengthAdjust="spacing">2.4</text>
<text y="262.7" font-size="12.1" fill="#1a1a1a" transform="rotate(0.03 195.4 262.7)"><tspan x="145.47" textLength="64.22" lengthAdjust="spacing">Wavelength</tspan> <tspan x="216.25" textLength="29.78" lengthAdjust="spacing">(µm)</tspan></text>
<text y="262.7" font-size="12.1" fill="#1a1a1a" transform="rotate(0.03 580.8 262.7)"><tspan x="530.98" textLength="64.22" lengthAdjust="spacing">Wavelength</tspan> <tspan x="601.75" textLength="29.48" lengthAdjust="spacing">(µm)</tspan></text>
<text x="36.9" y="231.2" transform="rotate(0.03 36.9 231.2)" font-size="12.4" text-anchor="end" fill="#1a1a1a" textLength="18.2" lengthAdjust="spacing">0.0</text>
<text x="36.9" y="193.3" transform="rotate(0.03 36.9 193.3)" font-size="12.4" text-anchor="end" fill="#1a1a1a" textLength="18.2" lengthAdjust="spacing">0.1</text>
<text x="36.9" y="150.7" transform="rotate(0.03 36.9 150.7)" font-size="12.4" text-anchor="end" fill="#1a1a1a" textLength="18.2" lengthAdjust="spacing">0.2</text>
<text x="36.9" y="108.1" transform="rotate(0.03 36.9 108.1)" font-size="12.4" text-anchor="end" fill="#1a1a1a" textLength="18.2" lengthAdjust="spacing">0.3</text>
<text x="36.9" y="65.5" transform="rotate(0.03 36.9 65.5)" font-size="12.4" text-anchor="end" fill="#1a1a1a" textLength="18.2" lengthAdjust="spacing">0.4</text>
<text x="36.9" y="25.9" transform="rotate(0.03 36.9 25.9)" font-size="12.4" text-anchor="end" fill="#1a1a1a" textLength="18.2" lengthAdjust="spacing">0.5</text>
<text x="423.1" y="231.2" transform="rotate(0.03 423.1 231.2)" font-size="12.4" text-anchor="end" fill="#1a1a1a" textLength="18.2" lengthAdjust="spacing">0.0</text>
<text x="423.1" y="182.4" transform="rotate(0.03 423.1 182.4)" font-size="12.4" text-anchor="end" fill="#1a1a1a" textLength="18.2" lengthAdjust="spacing">0.5</text>
<text x="423.1" y="129.1" transform="rotate(0.03 423.1 129.1)" font-size="12.4" text-anchor="end" fill="#1a1a1a" textLength="18.2" lengthAdjust="spacing">1.0</text>
<text x="423.1" y="75.8" transform="rotate(0.03 423.1 75.8)" font-size="12.4" text-anchor="end" fill="#1a1a1a" textLength="18.2" lengthAdjust="spacing">1.5</text>
<text x="423.1" y="25.9" transform="rotate(0.03 423.1 25.9)" font-size="12.4" text-anchor="end" fill="#1a1a1a" textLength="18.2" lengthAdjust="spacing">2.0</text>
<text y="0" font-size="12.1" fill="#1a1a1a" transform="translate(9.2,157.4) rotate(-90.03)"><tspan x="-1.00" textLength="67.90" lengthAdjust="spacing">Reflectance</tspan></text>
<text y="0" font-size="12.1" fill="#1a1a1a" transform="translate(395.0,177.3) rotate(-90.03)"><tspan x="-1.00" textLength="29.48" lengthAdjust="spacing">Ratio</tspan> <tspan x="34.65" textLength="71.17" lengthAdjust="spacing">icy/non-icy</tspan></text>
</g>
<text y="39.5" font-size="8.0" fill="#303030" transform="rotate(0.03 243.1 39.5)"><tspan x="179.38" textLength="31.84" lengthAdjust="spacing">Long/Lat</tspan> <tspan x="215.00" textLength="36.95" lengthAdjust="spacing">(260°;10°)</tspan> <tspan x="254.85">:</tspan> <tspan x="260.20" textLength="27.65" lengthAdjust="spacing" fill="#cc1414">non-icy</tspan> <tspan x="291.52" textLength="14.59" lengthAdjust="spacing" fill="#cc1414">area</tspan></text>
<text y="50.1" font-size="8.0" fill="#303030" transform="rotate(0.03 234.1 50.1)"><tspan x="179.38" textLength="31.84" lengthAdjust="spacing">Long/Lat</tspan> <tspan x="215.00" textLength="36.95" lengthAdjust="spacing">(120°;30°)</tspan> <tspan x="254.85">:</tspan> <tspan x="260.20" textLength="9.03" lengthAdjust="spacing" fill="#2a10ff">icy</tspan> <tspan x="273.12" textLength="15.09" lengthAdjust="spacing" fill="#2a10ff">area</tspan></text>
<text y="60.8" font-size="8.0" fill="#303030" transform="rotate(0.03 243.5 60.8)"><tspan x="179.38" textLength="31.84" lengthAdjust="spacing">Long/Lat</tspan> <tspan x="215.00" textLength="32.90" lengthAdjust="spacing">(195°;0°)</tspan> <tspan x="250.35">:</tspan> <tspan x="255.88" textLength="31.79" lengthAdjust="spacing" fill="#e07a1c">transition</tspan> <tspan x="291.65" textLength="15.71" lengthAdjust="spacing" fill="#e07a1c">zone</tspan></text>
<text y="71.5" font-size="8.0" fill="#303030" transform="rotate(0.03 240.2 71.5)"><tspan x="179.38" textLength="31.84" lengthAdjust="spacing">Long/Lat</tspan> <tspan x="215.00" textLength="38.65" lengthAdjust="spacing">(75°;-10°)</tspan> <tspan x="256.45">:</tspan> <tspan x="261.98" textLength="13.96" lengthAdjust="spacing" fill="#66f814">Tara</tspan> <tspan x="280.32" textLength="20.31" lengthAdjust="spacing" fill="#66f814">chaos</tspan></text>
</g>
</svg>
</body></html>
